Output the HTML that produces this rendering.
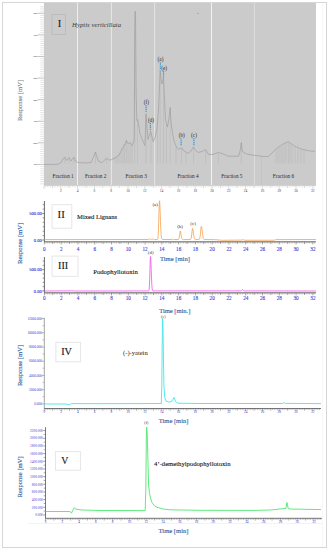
<!DOCTYPE html>
<html><head><meta charset="utf-8"><style>
html,body{margin:0;padding:0;background:#fff;width:329px;height:550px;overflow:hidden}
svg{display:block}
text{font-family:"Liberation Serif",serif}
</style></head><body>
<svg width="329" height="550" viewBox="0 0 329 550">
<rect x="2.5" y="2.5" width="324" height="545" fill="none" stroke="#d6d6d6" stroke-width="1"/>
<rect x="44" y="3" width="272" height="182" fill="#cbcbcb"/>
<line x1="37.8" y1="13.3" x2="44" y2="13.3" stroke="#a8a8a8" stroke-width="0.7"/>
<text x="37.4" y="14.3" font-size="2.8" fill="#3a3a3a" text-anchor="end" font-family="Liberation Sans" >800</text>
<line x1="37.8" y1="34.89" x2="44" y2="34.89" stroke="#a8a8a8" stroke-width="0.7"/>
<text x="37.4" y="35.89" font-size="2.8" fill="#3a3a3a" text-anchor="end" font-family="Liberation Sans" >700</text>
<line x1="37.8" y1="56.48" x2="44" y2="56.48" stroke="#a8a8a8" stroke-width="0.7"/>
<text x="37.4" y="57.48" font-size="2.8" fill="#3a3a3a" text-anchor="end" font-family="Liberation Sans" >600</text>
<line x1="37.8" y1="78.07" x2="44" y2="78.07" stroke="#a8a8a8" stroke-width="0.7"/>
<text x="37.4" y="79.07" font-size="2.8" fill="#3a3a3a" text-anchor="end" font-family="Liberation Sans" >500</text>
<line x1="37.8" y1="99.66" x2="44" y2="99.66" stroke="#a8a8a8" stroke-width="0.7"/>
<text x="37.4" y="100.66" font-size="2.8" fill="#3a3a3a" text-anchor="end" font-family="Liberation Sans" >400</text>
<line x1="37.8" y1="121.25" x2="44" y2="121.25" stroke="#a8a8a8" stroke-width="0.7"/>
<text x="37.4" y="122.25" font-size="2.8" fill="#3a3a3a" text-anchor="end" font-family="Liberation Sans" >300</text>
<line x1="37.8" y1="142.84" x2="44" y2="142.84" stroke="#a8a8a8" stroke-width="0.7"/>
<text x="37.4" y="143.84" font-size="2.8" fill="#3a3a3a" text-anchor="end" font-family="Liberation Sans" >200</text>
<line x1="37.8" y1="164.43" x2="44" y2="164.43" stroke="#a8a8a8" stroke-width="0.7"/>
<text x="37.4" y="165.43" font-size="2.8" fill="#3a3a3a" text-anchor="end" font-family="Liberation Sans" >100</text>
<line x1="40.3" y1="6.82" x2="44" y2="6.82" stroke="#c8c8c8" stroke-width="0.5"/>
<line x1="40.3" y1="8.98" x2="44" y2="8.98" stroke="#c8c8c8" stroke-width="0.5"/>
<line x1="40.3" y1="11.14" x2="44" y2="11.14" stroke="#c8c8c8" stroke-width="0.5"/>
<line x1="40.3" y1="15.46" x2="44" y2="15.46" stroke="#c8c8c8" stroke-width="0.5"/>
<line x1="40.3" y1="17.62" x2="44" y2="17.62" stroke="#c8c8c8" stroke-width="0.5"/>
<line x1="40.3" y1="19.78" x2="44" y2="19.78" stroke="#c8c8c8" stroke-width="0.5"/>
<line x1="40.3" y1="21.94" x2="44" y2="21.94" stroke="#c8c8c8" stroke-width="0.5"/>
<line x1="40.3" y1="24.09" x2="44" y2="24.09" stroke="#c8c8c8" stroke-width="0.5"/>
<line x1="40.3" y1="26.25" x2="44" y2="26.25" stroke="#c8c8c8" stroke-width="0.5"/>
<line x1="40.3" y1="28.41" x2="44" y2="28.41" stroke="#c8c8c8" stroke-width="0.5"/>
<line x1="40.3" y1="30.57" x2="44" y2="30.57" stroke="#c8c8c8" stroke-width="0.5"/>
<line x1="40.3" y1="32.73" x2="44" y2="32.73" stroke="#c8c8c8" stroke-width="0.5"/>
<line x1="40.3" y1="37.05" x2="44" y2="37.05" stroke="#c8c8c8" stroke-width="0.5"/>
<line x1="40.3" y1="39.21" x2="44" y2="39.21" stroke="#c8c8c8" stroke-width="0.5"/>
<line x1="40.3" y1="41.37" x2="44" y2="41.37" stroke="#c8c8c8" stroke-width="0.5"/>
<line x1="40.3" y1="43.53" x2="44" y2="43.53" stroke="#c8c8c8" stroke-width="0.5"/>
<line x1="40.3" y1="45.69" x2="44" y2="45.69" stroke="#c8c8c8" stroke-width="0.5"/>
<line x1="40.3" y1="47.84" x2="44" y2="47.84" stroke="#c8c8c8" stroke-width="0.5"/>
<line x1="40.3" y1="50" x2="44" y2="50" stroke="#c8c8c8" stroke-width="0.5"/>
<line x1="40.3" y1="52.16" x2="44" y2="52.16" stroke="#c8c8c8" stroke-width="0.5"/>
<line x1="40.3" y1="54.32" x2="44" y2="54.32" stroke="#c8c8c8" stroke-width="0.5"/>
<line x1="40.3" y1="58.64" x2="44" y2="58.64" stroke="#c8c8c8" stroke-width="0.5"/>
<line x1="40.3" y1="60.8" x2="44" y2="60.8" stroke="#c8c8c8" stroke-width="0.5"/>
<line x1="40.3" y1="62.96" x2="44" y2="62.96" stroke="#c8c8c8" stroke-width="0.5"/>
<line x1="40.3" y1="65.12" x2="44" y2="65.12" stroke="#c8c8c8" stroke-width="0.5"/>
<line x1="40.3" y1="67.28" x2="44" y2="67.28" stroke="#c8c8c8" stroke-width="0.5"/>
<line x1="40.3" y1="69.43" x2="44" y2="69.43" stroke="#c8c8c8" stroke-width="0.5"/>
<line x1="40.3" y1="71.59" x2="44" y2="71.59" stroke="#c8c8c8" stroke-width="0.5"/>
<line x1="40.3" y1="73.75" x2="44" y2="73.75" stroke="#c8c8c8" stroke-width="0.5"/>
<line x1="40.3" y1="75.91" x2="44" y2="75.91" stroke="#c8c8c8" stroke-width="0.5"/>
<line x1="40.3" y1="80.23" x2="44" y2="80.23" stroke="#c8c8c8" stroke-width="0.5"/>
<line x1="40.3" y1="82.39" x2="44" y2="82.39" stroke="#c8c8c8" stroke-width="0.5"/>
<line x1="40.3" y1="84.55" x2="44" y2="84.55" stroke="#c8c8c8" stroke-width="0.5"/>
<line x1="40.3" y1="86.71" x2="44" y2="86.71" stroke="#c8c8c8" stroke-width="0.5"/>
<line x1="40.3" y1="88.86" x2="44" y2="88.86" stroke="#c8c8c8" stroke-width="0.5"/>
<line x1="40.3" y1="91.02" x2="44" y2="91.02" stroke="#c8c8c8" stroke-width="0.5"/>
<line x1="40.3" y1="93.18" x2="44" y2="93.18" stroke="#c8c8c8" stroke-width="0.5"/>
<line x1="40.3" y1="95.34" x2="44" y2="95.34" stroke="#c8c8c8" stroke-width="0.5"/>
<line x1="40.3" y1="97.5" x2="44" y2="97.5" stroke="#c8c8c8" stroke-width="0.5"/>
<line x1="40.3" y1="101.82" x2="44" y2="101.82" stroke="#c8c8c8" stroke-width="0.5"/>
<line x1="40.3" y1="103.98" x2="44" y2="103.98" stroke="#c8c8c8" stroke-width="0.5"/>
<line x1="40.3" y1="106.14" x2="44" y2="106.14" stroke="#c8c8c8" stroke-width="0.5"/>
<line x1="40.3" y1="108.3" x2="44" y2="108.3" stroke="#c8c8c8" stroke-width="0.5"/>
<line x1="40.3" y1="110.45" x2="44" y2="110.45" stroke="#c8c8c8" stroke-width="0.5"/>
<line x1="40.3" y1="112.61" x2="44" y2="112.61" stroke="#c8c8c8" stroke-width="0.5"/>
<line x1="40.3" y1="114.77" x2="44" y2="114.77" stroke="#c8c8c8" stroke-width="0.5"/>
<line x1="40.3" y1="116.93" x2="44" y2="116.93" stroke="#c8c8c8" stroke-width="0.5"/>
<line x1="40.3" y1="119.09" x2="44" y2="119.09" stroke="#c8c8c8" stroke-width="0.5"/>
<line x1="40.3" y1="123.41" x2="44" y2="123.41" stroke="#c8c8c8" stroke-width="0.5"/>
<line x1="40.3" y1="125.57" x2="44" y2="125.57" stroke="#c8c8c8" stroke-width="0.5"/>
<line x1="40.3" y1="127.73" x2="44" y2="127.73" stroke="#c8c8c8" stroke-width="0.5"/>
<line x1="40.3" y1="129.89" x2="44" y2="129.89" stroke="#c8c8c8" stroke-width="0.5"/>
<line x1="40.3" y1="132.05" x2="44" y2="132.05" stroke="#c8c8c8" stroke-width="0.5"/>
<line x1="40.3" y1="134.2" x2="44" y2="134.2" stroke="#c8c8c8" stroke-width="0.5"/>
<line x1="40.3" y1="136.36" x2="44" y2="136.36" stroke="#c8c8c8" stroke-width="0.5"/>
<line x1="40.3" y1="138.52" x2="44" y2="138.52" stroke="#c8c8c8" stroke-width="0.5"/>
<line x1="40.3" y1="140.68" x2="44" y2="140.68" stroke="#c8c8c8" stroke-width="0.5"/>
<line x1="40.3" y1="145" x2="44" y2="145" stroke="#c8c8c8" stroke-width="0.5"/>
<line x1="40.3" y1="147.16" x2="44" y2="147.16" stroke="#c8c8c8" stroke-width="0.5"/>
<line x1="40.3" y1="149.32" x2="44" y2="149.32" stroke="#c8c8c8" stroke-width="0.5"/>
<line x1="40.3" y1="151.48" x2="44" y2="151.48" stroke="#c8c8c8" stroke-width="0.5"/>
<line x1="40.3" y1="153.63" x2="44" y2="153.63" stroke="#c8c8c8" stroke-width="0.5"/>
<line x1="40.3" y1="155.79" x2="44" y2="155.79" stroke="#c8c8c8" stroke-width="0.5"/>
<line x1="40.3" y1="157.95" x2="44" y2="157.95" stroke="#c8c8c8" stroke-width="0.5"/>
<line x1="40.3" y1="160.11" x2="44" y2="160.11" stroke="#c8c8c8" stroke-width="0.5"/>
<line x1="40.3" y1="162.27" x2="44" y2="162.27" stroke="#c8c8c8" stroke-width="0.5"/>
<line x1="40.3" y1="166.59" x2="44" y2="166.59" stroke="#c8c8c8" stroke-width="0.5"/>
<line x1="40.3" y1="168.75" x2="44" y2="168.75" stroke="#c8c8c8" stroke-width="0.5"/>
<line x1="40.3" y1="170.91" x2="44" y2="170.91" stroke="#c8c8c8" stroke-width="0.5"/>
<line x1="40.3" y1="173.07" x2="44" y2="173.07" stroke="#c8c8c8" stroke-width="0.5"/>
<line x1="40.3" y1="175.23" x2="44" y2="175.23" stroke="#c8c8c8" stroke-width="0.5"/>
<line x1="40.3" y1="177.38" x2="44" y2="177.38" stroke="#c8c8c8" stroke-width="0.5"/>
<line x1="40.3" y1="179.54" x2="44" y2="179.54" stroke="#c8c8c8" stroke-width="0.5"/>
<line x1="40.3" y1="181.7" x2="44" y2="181.7" stroke="#c8c8c8" stroke-width="0.5"/>
<line x1="40.3" y1="183.86" x2="44" y2="183.86" stroke="#c8c8c8" stroke-width="0.5"/>
<text x="0" y="0" font-size="6.6" fill="#808080" text-anchor="middle" stroke="#808080" stroke-width="0.12" transform="translate(21.7,100.5) rotate(-90)">Response [mV]</text>
<line x1="44" y1="185.5" x2="316" y2="185.5" stroke="#d4d4d4" stroke-width="1"/>
<line x1="44" y1="185.5" x2="44" y2="189" stroke="#bdbdbd" stroke-width="0.6"/>
<line x1="45.68" y1="185.5" x2="45.68" y2="187.3" stroke="#d0d0d0" stroke-width="0.5"/>
<line x1="47.36" y1="185.5" x2="47.36" y2="187.3" stroke="#d0d0d0" stroke-width="0.5"/>
<line x1="49.04" y1="185.5" x2="49.04" y2="187.3" stroke="#d0d0d0" stroke-width="0.5"/>
<line x1="50.72" y1="185.5" x2="50.72" y2="187.3" stroke="#d0d0d0" stroke-width="0.5"/>
<line x1="52.4" y1="185.5" x2="52.4" y2="188" stroke="#bdbdbd" stroke-width="0.6"/>
<line x1="54.08" y1="185.5" x2="54.08" y2="187.3" stroke="#d0d0d0" stroke-width="0.5"/>
<line x1="55.76" y1="185.5" x2="55.76" y2="187.3" stroke="#d0d0d0" stroke-width="0.5"/>
<line x1="57.44" y1="185.5" x2="57.44" y2="187.3" stroke="#d0d0d0" stroke-width="0.5"/>
<line x1="59.12" y1="185.5" x2="59.12" y2="187.3" stroke="#d0d0d0" stroke-width="0.5"/>
<line x1="60.8" y1="185.5" x2="60.8" y2="189" stroke="#bdbdbd" stroke-width="0.6"/>
<text x="60.8" y="192.4" font-size="3.5" fill="#444" text-anchor="middle" font-family="Liberation Sans" >2</text>
<line x1="62.48" y1="185.5" x2="62.48" y2="187.3" stroke="#d0d0d0" stroke-width="0.5"/>
<line x1="64.16" y1="185.5" x2="64.16" y2="187.3" stroke="#d0d0d0" stroke-width="0.5"/>
<line x1="65.84" y1="185.5" x2="65.84" y2="187.3" stroke="#d0d0d0" stroke-width="0.5"/>
<line x1="67.52" y1="185.5" x2="67.52" y2="187.3" stroke="#d0d0d0" stroke-width="0.5"/>
<line x1="69.2" y1="185.5" x2="69.2" y2="188" stroke="#bdbdbd" stroke-width="0.6"/>
<line x1="70.88" y1="185.5" x2="70.88" y2="187.3" stroke="#d0d0d0" stroke-width="0.5"/>
<line x1="72.56" y1="185.5" x2="72.56" y2="187.3" stroke="#d0d0d0" stroke-width="0.5"/>
<line x1="74.24" y1="185.5" x2="74.24" y2="187.3" stroke="#d0d0d0" stroke-width="0.5"/>
<line x1="75.92" y1="185.5" x2="75.92" y2="187.3" stroke="#d0d0d0" stroke-width="0.5"/>
<line x1="77.6" y1="185.5" x2="77.6" y2="189" stroke="#bdbdbd" stroke-width="0.6"/>
<text x="77.6" y="192.4" font-size="3.5" fill="#444" text-anchor="middle" font-family="Liberation Sans" >4</text>
<line x1="79.28" y1="185.5" x2="79.28" y2="187.3" stroke="#d0d0d0" stroke-width="0.5"/>
<line x1="80.96" y1="185.5" x2="80.96" y2="187.3" stroke="#d0d0d0" stroke-width="0.5"/>
<line x1="82.64" y1="185.5" x2="82.64" y2="187.3" stroke="#d0d0d0" stroke-width="0.5"/>
<line x1="84.32" y1="185.5" x2="84.32" y2="187.3" stroke="#d0d0d0" stroke-width="0.5"/>
<line x1="86" y1="185.5" x2="86" y2="188" stroke="#bdbdbd" stroke-width="0.6"/>
<line x1="87.68" y1="185.5" x2="87.68" y2="187.3" stroke="#d0d0d0" stroke-width="0.5"/>
<line x1="89.36" y1="185.5" x2="89.36" y2="187.3" stroke="#d0d0d0" stroke-width="0.5"/>
<line x1="91.04" y1="185.5" x2="91.04" y2="187.3" stroke="#d0d0d0" stroke-width="0.5"/>
<line x1="92.72" y1="185.5" x2="92.72" y2="187.3" stroke="#d0d0d0" stroke-width="0.5"/>
<line x1="94.4" y1="185.5" x2="94.4" y2="189" stroke="#bdbdbd" stroke-width="0.6"/>
<text x="94.4" y="192.4" font-size="3.5" fill="#444" text-anchor="middle" font-family="Liberation Sans" >6</text>
<line x1="96.08" y1="185.5" x2="96.08" y2="187.3" stroke="#d0d0d0" stroke-width="0.5"/>
<line x1="97.76" y1="185.5" x2="97.76" y2="187.3" stroke="#d0d0d0" stroke-width="0.5"/>
<line x1="99.44" y1="185.5" x2="99.44" y2="187.3" stroke="#d0d0d0" stroke-width="0.5"/>
<line x1="101.12" y1="185.5" x2="101.12" y2="187.3" stroke="#d0d0d0" stroke-width="0.5"/>
<line x1="102.8" y1="185.5" x2="102.8" y2="188" stroke="#bdbdbd" stroke-width="0.6"/>
<line x1="104.48" y1="185.5" x2="104.48" y2="187.3" stroke="#d0d0d0" stroke-width="0.5"/>
<line x1="106.16" y1="185.5" x2="106.16" y2="187.3" stroke="#d0d0d0" stroke-width="0.5"/>
<line x1="107.84" y1="185.5" x2="107.84" y2="187.3" stroke="#d0d0d0" stroke-width="0.5"/>
<line x1="109.52" y1="185.5" x2="109.52" y2="187.3" stroke="#d0d0d0" stroke-width="0.5"/>
<line x1="111.2" y1="185.5" x2="111.2" y2="189" stroke="#bdbdbd" stroke-width="0.6"/>
<text x="111.2" y="192.4" font-size="3.5" fill="#444" text-anchor="middle" font-family="Liberation Sans" >8</text>
<line x1="112.88" y1="185.5" x2="112.88" y2="187.3" stroke="#d0d0d0" stroke-width="0.5"/>
<line x1="114.56" y1="185.5" x2="114.56" y2="187.3" stroke="#d0d0d0" stroke-width="0.5"/>
<line x1="116.24" y1="185.5" x2="116.24" y2="187.3" stroke="#d0d0d0" stroke-width="0.5"/>
<line x1="117.92" y1="185.5" x2="117.92" y2="187.3" stroke="#d0d0d0" stroke-width="0.5"/>
<line x1="119.6" y1="185.5" x2="119.6" y2="188" stroke="#bdbdbd" stroke-width="0.6"/>
<line x1="121.28" y1="185.5" x2="121.28" y2="187.3" stroke="#d0d0d0" stroke-width="0.5"/>
<line x1="122.96" y1="185.5" x2="122.96" y2="187.3" stroke="#d0d0d0" stroke-width="0.5"/>
<line x1="124.64" y1="185.5" x2="124.64" y2="187.3" stroke="#d0d0d0" stroke-width="0.5"/>
<line x1="126.32" y1="185.5" x2="126.32" y2="187.3" stroke="#d0d0d0" stroke-width="0.5"/>
<line x1="128" y1="185.5" x2="128" y2="189" stroke="#bdbdbd" stroke-width="0.6"/>
<text x="128" y="192.4" font-size="3.5" fill="#444" text-anchor="middle" font-family="Liberation Sans" >10</text>
<line x1="129.68" y1="185.5" x2="129.68" y2="187.3" stroke="#d0d0d0" stroke-width="0.5"/>
<line x1="131.36" y1="185.5" x2="131.36" y2="187.3" stroke="#d0d0d0" stroke-width="0.5"/>
<line x1="133.04" y1="185.5" x2="133.04" y2="187.3" stroke="#d0d0d0" stroke-width="0.5"/>
<line x1="134.72" y1="185.5" x2="134.72" y2="187.3" stroke="#d0d0d0" stroke-width="0.5"/>
<line x1="136.4" y1="185.5" x2="136.4" y2="188" stroke="#bdbdbd" stroke-width="0.6"/>
<line x1="138.08" y1="185.5" x2="138.08" y2="187.3" stroke="#d0d0d0" stroke-width="0.5"/>
<line x1="139.76" y1="185.5" x2="139.76" y2="187.3" stroke="#d0d0d0" stroke-width="0.5"/>
<line x1="141.44" y1="185.5" x2="141.44" y2="187.3" stroke="#d0d0d0" stroke-width="0.5"/>
<line x1="143.12" y1="185.5" x2="143.12" y2="187.3" stroke="#d0d0d0" stroke-width="0.5"/>
<line x1="144.8" y1="185.5" x2="144.8" y2="189" stroke="#bdbdbd" stroke-width="0.6"/>
<text x="144.8" y="192.4" font-size="3.5" fill="#444" text-anchor="middle" font-family="Liberation Sans" >12</text>
<line x1="146.48" y1="185.5" x2="146.48" y2="187.3" stroke="#d0d0d0" stroke-width="0.5"/>
<line x1="148.16" y1="185.5" x2="148.16" y2="187.3" stroke="#d0d0d0" stroke-width="0.5"/>
<line x1="149.84" y1="185.5" x2="149.84" y2="187.3" stroke="#d0d0d0" stroke-width="0.5"/>
<line x1="151.52" y1="185.5" x2="151.52" y2="187.3" stroke="#d0d0d0" stroke-width="0.5"/>
<line x1="153.2" y1="185.5" x2="153.2" y2="188" stroke="#bdbdbd" stroke-width="0.6"/>
<line x1="154.88" y1="185.5" x2="154.88" y2="187.3" stroke="#d0d0d0" stroke-width="0.5"/>
<line x1="156.56" y1="185.5" x2="156.56" y2="187.3" stroke="#d0d0d0" stroke-width="0.5"/>
<line x1="158.24" y1="185.5" x2="158.24" y2="187.3" stroke="#d0d0d0" stroke-width="0.5"/>
<line x1="159.92" y1="185.5" x2="159.92" y2="187.3" stroke="#d0d0d0" stroke-width="0.5"/>
<line x1="161.6" y1="185.5" x2="161.6" y2="189" stroke="#bdbdbd" stroke-width="0.6"/>
<text x="161.6" y="192.4" font-size="3.5" fill="#444" text-anchor="middle" font-family="Liberation Sans" >14</text>
<line x1="163.28" y1="185.5" x2="163.28" y2="187.3" stroke="#d0d0d0" stroke-width="0.5"/>
<line x1="164.96" y1="185.5" x2="164.96" y2="187.3" stroke="#d0d0d0" stroke-width="0.5"/>
<line x1="166.64" y1="185.5" x2="166.64" y2="187.3" stroke="#d0d0d0" stroke-width="0.5"/>
<line x1="168.32" y1="185.5" x2="168.32" y2="187.3" stroke="#d0d0d0" stroke-width="0.5"/>
<line x1="170" y1="185.5" x2="170" y2="188" stroke="#bdbdbd" stroke-width="0.6"/>
<line x1="171.68" y1="185.5" x2="171.68" y2="187.3" stroke="#d0d0d0" stroke-width="0.5"/>
<line x1="173.36" y1="185.5" x2="173.36" y2="187.3" stroke="#d0d0d0" stroke-width="0.5"/>
<line x1="175.04" y1="185.5" x2="175.04" y2="187.3" stroke="#d0d0d0" stroke-width="0.5"/>
<line x1="176.72" y1="185.5" x2="176.72" y2="187.3" stroke="#d0d0d0" stroke-width="0.5"/>
<line x1="178.4" y1="185.5" x2="178.4" y2="189" stroke="#bdbdbd" stroke-width="0.6"/>
<text x="178.4" y="192.4" font-size="3.5" fill="#444" text-anchor="middle" font-family="Liberation Sans" >16</text>
<line x1="180.08" y1="185.5" x2="180.08" y2="187.3" stroke="#d0d0d0" stroke-width="0.5"/>
<line x1="181.76" y1="185.5" x2="181.76" y2="187.3" stroke="#d0d0d0" stroke-width="0.5"/>
<line x1="183.44" y1="185.5" x2="183.44" y2="187.3" stroke="#d0d0d0" stroke-width="0.5"/>
<line x1="185.12" y1="185.5" x2="185.12" y2="187.3" stroke="#d0d0d0" stroke-width="0.5"/>
<line x1="186.8" y1="185.5" x2="186.8" y2="188" stroke="#bdbdbd" stroke-width="0.6"/>
<line x1="188.48" y1="185.5" x2="188.48" y2="187.3" stroke="#d0d0d0" stroke-width="0.5"/>
<line x1="190.16" y1="185.5" x2="190.16" y2="187.3" stroke="#d0d0d0" stroke-width="0.5"/>
<line x1="191.84" y1="185.5" x2="191.84" y2="187.3" stroke="#d0d0d0" stroke-width="0.5"/>
<line x1="193.52" y1="185.5" x2="193.52" y2="187.3" stroke="#d0d0d0" stroke-width="0.5"/>
<line x1="195.2" y1="185.5" x2="195.2" y2="189" stroke="#bdbdbd" stroke-width="0.6"/>
<text x="195.2" y="192.4" font-size="3.5" fill="#444" text-anchor="middle" font-family="Liberation Sans" >18</text>
<line x1="196.88" y1="185.5" x2="196.88" y2="187.3" stroke="#d0d0d0" stroke-width="0.5"/>
<line x1="198.56" y1="185.5" x2="198.56" y2="187.3" stroke="#d0d0d0" stroke-width="0.5"/>
<line x1="200.24" y1="185.5" x2="200.24" y2="187.3" stroke="#d0d0d0" stroke-width="0.5"/>
<line x1="201.92" y1="185.5" x2="201.92" y2="187.3" stroke="#d0d0d0" stroke-width="0.5"/>
<line x1="203.6" y1="185.5" x2="203.6" y2="188" stroke="#bdbdbd" stroke-width="0.6"/>
<line x1="205.28" y1="185.5" x2="205.28" y2="187.3" stroke="#d0d0d0" stroke-width="0.5"/>
<line x1="206.96" y1="185.5" x2="206.96" y2="187.3" stroke="#d0d0d0" stroke-width="0.5"/>
<line x1="208.64" y1="185.5" x2="208.64" y2="187.3" stroke="#d0d0d0" stroke-width="0.5"/>
<line x1="210.32" y1="185.5" x2="210.32" y2="187.3" stroke="#d0d0d0" stroke-width="0.5"/>
<line x1="212" y1="185.5" x2="212" y2="189" stroke="#bdbdbd" stroke-width="0.6"/>
<text x="212" y="192.4" font-size="3.5" fill="#444" text-anchor="middle" font-family="Liberation Sans" >20</text>
<line x1="213.68" y1="185.5" x2="213.68" y2="187.3" stroke="#d0d0d0" stroke-width="0.5"/>
<line x1="215.36" y1="185.5" x2="215.36" y2="187.3" stroke="#d0d0d0" stroke-width="0.5"/>
<line x1="217.04" y1="185.5" x2="217.04" y2="187.3" stroke="#d0d0d0" stroke-width="0.5"/>
<line x1="218.72" y1="185.5" x2="218.72" y2="187.3" stroke="#d0d0d0" stroke-width="0.5"/>
<line x1="220.4" y1="185.5" x2="220.4" y2="188" stroke="#bdbdbd" stroke-width="0.6"/>
<line x1="222.08" y1="185.5" x2="222.08" y2="187.3" stroke="#d0d0d0" stroke-width="0.5"/>
<line x1="223.76" y1="185.5" x2="223.76" y2="187.3" stroke="#d0d0d0" stroke-width="0.5"/>
<line x1="225.44" y1="185.5" x2="225.44" y2="187.3" stroke="#d0d0d0" stroke-width="0.5"/>
<line x1="227.12" y1="185.5" x2="227.12" y2="187.3" stroke="#d0d0d0" stroke-width="0.5"/>
<line x1="228.8" y1="185.5" x2="228.8" y2="189" stroke="#bdbdbd" stroke-width="0.6"/>
<text x="228.8" y="192.4" font-size="3.5" fill="#444" text-anchor="middle" font-family="Liberation Sans" >22</text>
<line x1="230.48" y1="185.5" x2="230.48" y2="187.3" stroke="#d0d0d0" stroke-width="0.5"/>
<line x1="232.16" y1="185.5" x2="232.16" y2="187.3" stroke="#d0d0d0" stroke-width="0.5"/>
<line x1="233.84" y1="185.5" x2="233.84" y2="187.3" stroke="#d0d0d0" stroke-width="0.5"/>
<line x1="235.52" y1="185.5" x2="235.52" y2="187.3" stroke="#d0d0d0" stroke-width="0.5"/>
<line x1="237.2" y1="185.5" x2="237.2" y2="188" stroke="#bdbdbd" stroke-width="0.6"/>
<line x1="238.88" y1="185.5" x2="238.88" y2="187.3" stroke="#d0d0d0" stroke-width="0.5"/>
<line x1="240.56" y1="185.5" x2="240.56" y2="187.3" stroke="#d0d0d0" stroke-width="0.5"/>
<line x1="242.24" y1="185.5" x2="242.24" y2="187.3" stroke="#d0d0d0" stroke-width="0.5"/>
<line x1="243.92" y1="185.5" x2="243.92" y2="187.3" stroke="#d0d0d0" stroke-width="0.5"/>
<line x1="245.6" y1="185.5" x2="245.6" y2="189" stroke="#bdbdbd" stroke-width="0.6"/>
<text x="245.6" y="192.4" font-size="3.5" fill="#444" text-anchor="middle" font-family="Liberation Sans" >24</text>
<line x1="247.28" y1="185.5" x2="247.28" y2="187.3" stroke="#d0d0d0" stroke-width="0.5"/>
<line x1="248.96" y1="185.5" x2="248.96" y2="187.3" stroke="#d0d0d0" stroke-width="0.5"/>
<line x1="250.64" y1="185.5" x2="250.64" y2="187.3" stroke="#d0d0d0" stroke-width="0.5"/>
<line x1="252.32" y1="185.5" x2="252.32" y2="187.3" stroke="#d0d0d0" stroke-width="0.5"/>
<line x1="254" y1="185.5" x2="254" y2="188" stroke="#bdbdbd" stroke-width="0.6"/>
<line x1="255.68" y1="185.5" x2="255.68" y2="187.3" stroke="#d0d0d0" stroke-width="0.5"/>
<line x1="257.36" y1="185.5" x2="257.36" y2="187.3" stroke="#d0d0d0" stroke-width="0.5"/>
<line x1="259.04" y1="185.5" x2="259.04" y2="187.3" stroke="#d0d0d0" stroke-width="0.5"/>
<line x1="260.72" y1="185.5" x2="260.72" y2="187.3" stroke="#d0d0d0" stroke-width="0.5"/>
<line x1="262.4" y1="185.5" x2="262.4" y2="189" stroke="#bdbdbd" stroke-width="0.6"/>
<text x="262.4" y="192.4" font-size="3.5" fill="#444" text-anchor="middle" font-family="Liberation Sans" >26</text>
<line x1="264.08" y1="185.5" x2="264.08" y2="187.3" stroke="#d0d0d0" stroke-width="0.5"/>
<line x1="265.76" y1="185.5" x2="265.76" y2="187.3" stroke="#d0d0d0" stroke-width="0.5"/>
<line x1="267.44" y1="185.5" x2="267.44" y2="187.3" stroke="#d0d0d0" stroke-width="0.5"/>
<line x1="269.12" y1="185.5" x2="269.12" y2="187.3" stroke="#d0d0d0" stroke-width="0.5"/>
<line x1="270.8" y1="185.5" x2="270.8" y2="188" stroke="#bdbdbd" stroke-width="0.6"/>
<line x1="272.48" y1="185.5" x2="272.48" y2="187.3" stroke="#d0d0d0" stroke-width="0.5"/>
<line x1="274.16" y1="185.5" x2="274.16" y2="187.3" stroke="#d0d0d0" stroke-width="0.5"/>
<line x1="275.84" y1="185.5" x2="275.84" y2="187.3" stroke="#d0d0d0" stroke-width="0.5"/>
<line x1="277.52" y1="185.5" x2="277.52" y2="187.3" stroke="#d0d0d0" stroke-width="0.5"/>
<line x1="279.2" y1="185.5" x2="279.2" y2="189" stroke="#bdbdbd" stroke-width="0.6"/>
<text x="279.2" y="192.4" font-size="3.5" fill="#444" text-anchor="middle" font-family="Liberation Sans" >28</text>
<line x1="280.88" y1="185.5" x2="280.88" y2="187.3" stroke="#d0d0d0" stroke-width="0.5"/>
<line x1="282.56" y1="185.5" x2="282.56" y2="187.3" stroke="#d0d0d0" stroke-width="0.5"/>
<line x1="284.24" y1="185.5" x2="284.24" y2="187.3" stroke="#d0d0d0" stroke-width="0.5"/>
<line x1="285.92" y1="185.5" x2="285.92" y2="187.3" stroke="#d0d0d0" stroke-width="0.5"/>
<line x1="287.6" y1="185.5" x2="287.6" y2="188" stroke="#bdbdbd" stroke-width="0.6"/>
<line x1="289.28" y1="185.5" x2="289.28" y2="187.3" stroke="#d0d0d0" stroke-width="0.5"/>
<line x1="290.96" y1="185.5" x2="290.96" y2="187.3" stroke="#d0d0d0" stroke-width="0.5"/>
<line x1="292.64" y1="185.5" x2="292.64" y2="187.3" stroke="#d0d0d0" stroke-width="0.5"/>
<line x1="294.32" y1="185.5" x2="294.32" y2="187.3" stroke="#d0d0d0" stroke-width="0.5"/>
<line x1="296" y1="185.5" x2="296" y2="189" stroke="#bdbdbd" stroke-width="0.6"/>
<text x="296" y="192.4" font-size="3.5" fill="#444" text-anchor="middle" font-family="Liberation Sans" >30</text>
<line x1="297.68" y1="185.5" x2="297.68" y2="187.3" stroke="#d0d0d0" stroke-width="0.5"/>
<line x1="299.36" y1="185.5" x2="299.36" y2="187.3" stroke="#d0d0d0" stroke-width="0.5"/>
<line x1="301.04" y1="185.5" x2="301.04" y2="187.3" stroke="#d0d0d0" stroke-width="0.5"/>
<line x1="302.72" y1="185.5" x2="302.72" y2="187.3" stroke="#d0d0d0" stroke-width="0.5"/>
<line x1="304.4" y1="185.5" x2="304.4" y2="188" stroke="#bdbdbd" stroke-width="0.6"/>
<line x1="306.08" y1="185.5" x2="306.08" y2="187.3" stroke="#d0d0d0" stroke-width="0.5"/>
<line x1="307.76" y1="185.5" x2="307.76" y2="187.3" stroke="#d0d0d0" stroke-width="0.5"/>
<line x1="309.44" y1="185.5" x2="309.44" y2="187.3" stroke="#d0d0d0" stroke-width="0.5"/>
<line x1="311.12" y1="185.5" x2="311.12" y2="187.3" stroke="#d0d0d0" stroke-width="0.5"/>
<line x1="312.8" y1="185.5" x2="312.8" y2="189" stroke="#bdbdbd" stroke-width="0.6"/>
<text x="312.8" y="192.4" font-size="3.5" fill="#444" text-anchor="middle" font-family="Liberation Sans" >32</text>
<line x1="314.48" y1="185.5" x2="314.48" y2="187.3" stroke="#d0d0d0" stroke-width="0.5"/>
<line x1="77.5" y1="3" x2="77.5" y2="185" stroke="#efefef" stroke-width="1.05"/>
<line x1="111.4" y1="3" x2="111.4" y2="185" stroke="#e6e6e6" stroke-width="1.05"/>
<line x1="154.6" y1="3" x2="154.6" y2="185" stroke="#e3e3e3" stroke-width="1.05"/>
<line x1="211.5" y1="3" x2="211.5" y2="185" stroke="#f1f1f1" stroke-width="1.05"/>
<line x1="254.4" y1="3" x2="254.4" y2="185" stroke="#dedede" stroke-width="1.05"/>
<line x1="261.5" y1="157" x2="261.5" y2="185" stroke="#bcbcbc" stroke-width="0.5"/>
<circle cx="198" cy="13.4" r="0.6" fill="#999"/>
<line x1="322.5" y1="3" x2="322.5" y2="547" stroke="#f5f5f5" stroke-width="0.8"/>
<text x="63.1" y="177.7" font-size="5.2" fill="#2a2a2a" text-anchor="middle" >Fraction 1</text>
<text x="95.7" y="177.7" font-size="5.2" fill="#2a2a2a" text-anchor="middle" >Fraction 2</text>
<text x="136.2" y="177.7" font-size="5.2" fill="#2a2a2a" text-anchor="middle" >Fraction 3</text>
<text x="188" y="177.7" font-size="5.2" fill="#2a2a2a" text-anchor="middle" >Fraction 4</text>
<text x="231.8" y="177.7" font-size="5.2" fill="#2a2a2a" text-anchor="middle" >Fraction 5</text>
<text x="283.4" y="177.7" font-size="5.2" fill="#2a2a2a" text-anchor="middle" >Fraction 6</text>
<rect x="52" y="14.4" width="13.5" height="20.1" fill="none" stroke="#b8b8b8" stroke-width="0.8"/>
<text x="59.4" y="26.8" font-size="10.5" fill="#222" text-anchor="middle" stroke="#222" stroke-width="0.15" >I</text>
<text x="72.1" y="27.4" font-size="6.75" fill="#3c3c3c" text-anchor="start" font-style="italic">Hyptis verticillata</text>
<line x1="64.7" y1="157.5" x2="64.7" y2="163.5" stroke="#b3b3b3" stroke-width="0.45"/>
<line x1="69" y1="158" x2="69" y2="163.5" stroke="#b3b3b3" stroke-width="0.45"/>
<line x1="73.8" y1="157.5" x2="73.8" y2="163.5" stroke="#b3b3b3" stroke-width="0.45"/>
<line x1="95.5" y1="152.4" x2="95.5" y2="163.5" stroke="#b3b3b3" stroke-width="0.45"/>
<line x1="106.5" y1="158.8" x2="106.5" y2="163.5" stroke="#b3b3b3" stroke-width="0.45"/>
<line x1="115" y1="157.8" x2="115" y2="163.5" stroke="#b3b3b3" stroke-width="0.45"/>
<line x1="117" y1="157.3" x2="117" y2="163.5" stroke="#b3b3b3" stroke-width="0.45"/>
<line x1="119" y1="155.82" x2="119" y2="163.5" stroke="#b3b3b3" stroke-width="0.45"/>
<line x1="121" y1="151.98" x2="121" y2="163.5" stroke="#b3b3b3" stroke-width="0.45"/>
<line x1="123" y1="148.46" x2="123" y2="163.5" stroke="#b3b3b3" stroke-width="0.45"/>
<line x1="124.5" y1="145.25" x2="124.5" y2="163.5" stroke="#b3b3b3" stroke-width="0.45"/>
<line x1="126.3" y1="140.7" x2="126.3" y2="163.5" stroke="#b3b3b3" stroke-width="0.45"/>
<line x1="128" y1="144.5" x2="128" y2="163.5" stroke="#b3b3b3" stroke-width="0.45"/>
<line x1="130.1" y1="142.8" x2="130.1" y2="163.5" stroke="#b3b3b3" stroke-width="0.45"/>
<line x1="132" y1="145.91" x2="132" y2="163.5" stroke="#b3b3b3" stroke-width="0.45"/>
<line x1="134.8" y1="30.36" x2="134.8" y2="163.5" stroke="#b3b3b3" stroke-width="0.45"/>
<line x1="137.5" y1="120.2" x2="137.5" y2="163.5" stroke="#b3b3b3" stroke-width="0.45"/>
<line x1="146" y1="114.2" x2="146" y2="163.5" stroke="#b3b3b3" stroke-width="0.45"/>
<line x1="151" y1="133.17" x2="151" y2="163.5" stroke="#b3b3b3" stroke-width="0.45"/>
<line x1="157.5" y1="122.5" x2="157.5" y2="163.5" stroke="#b3b3b3" stroke-width="0.45"/>
<line x1="160.2" y1="70.7" x2="160.2" y2="163.5" stroke="#b3b3b3" stroke-width="0.45"/>
<line x1="163.5" y1="78" x2="163.5" y2="163.5" stroke="#b3b3b3" stroke-width="0.45"/>
<line x1="166.5" y1="124" x2="166.5" y2="163.5" stroke="#b3b3b3" stroke-width="0.45"/>
<line x1="170.2" y1="108" x2="170.2" y2="163.5" stroke="#b3b3b3" stroke-width="0.45"/>
<line x1="176" y1="146.42" x2="176" y2="163.5" stroke="#b3b3b3" stroke-width="0.45"/>
<line x1="181.5" y1="148.3" x2="181.5" y2="163.5" stroke="#b3b3b3" stroke-width="0.45"/>
<line x1="186" y1="152.6" x2="186" y2="163.5" stroke="#b3b3b3" stroke-width="0.45"/>
<line x1="193.5" y1="147.4" x2="193.5" y2="163.5" stroke="#b3b3b3" stroke-width="0.45"/>
<line x1="205.6" y1="150.1" x2="205.6" y2="163.5" stroke="#b3b3b3" stroke-width="0.45"/>
<line x1="218.4" y1="152.9" x2="218.4" y2="163.5" stroke="#b3b3b3" stroke-width="0.45"/>
<line x1="241.3" y1="143" x2="241.3" y2="163.5" stroke="#b3b3b3" stroke-width="0.45"/>
<line x1="276" y1="149.59" x2="276" y2="163.5" stroke="#b3b3b3" stroke-width="0.45"/>
<line x1="278" y1="147.99" x2="278" y2="163.5" stroke="#b3b3b3" stroke-width="0.45"/>
<line x1="280" y1="146.59" x2="280" y2="163.5" stroke="#b3b3b3" stroke-width="0.45"/>
<line x1="282" y1="145.18" x2="282" y2="163.5" stroke="#b3b3b3" stroke-width="0.45"/>
<line x1="284" y1="143.96" x2="284" y2="163.5" stroke="#b3b3b3" stroke-width="0.45"/>
<line x1="286" y1="143.16" x2="286" y2="163.5" stroke="#b3b3b3" stroke-width="0.45"/>
<line x1="288.4" y1="142.2" x2="288.4" y2="163.5" stroke="#b3b3b3" stroke-width="0.45"/>
<line x1="290" y1="143.34" x2="290" y2="163.5" stroke="#b3b3b3" stroke-width="0.45"/>
<line x1="292" y1="144.76" x2="292" y2="163.5" stroke="#b3b3b3" stroke-width="0.45"/>
<line x1="295" y1="146.71" x2="295" y2="163.5" stroke="#b3b3b3" stroke-width="0.45"/>
<line x1="298" y1="148.03" x2="298" y2="163.5" stroke="#b3b3b3" stroke-width="0.45"/>
<line x1="301" y1="149.35" x2="301" y2="163.5" stroke="#b3b3b3" stroke-width="0.45"/>
<line x1="304" y1="150.18" x2="304" y2="163.5" stroke="#b3b3b3" stroke-width="0.45"/>
<polyline points="44,164.5 58,164.3 61,162.5 63,159 64.7,157 66.5,160.5 69,157.5 71,161 73.8,157 75.5,161 78,162.5 85,163 91,162.5 93.5,157 95.5,151.9 97,157 98.2,161 101.9,162.8 104,160.5 106.5,158.3 109,160 111,160 113,158.6 114,159.2 115,157.3 116.5,157.6 118,155.2 118.9,155.6 120,152.5 120.8,152.2 121.8,148.6 122.7,148.8 124.2,144.6 125,145 126.3,140.2 128,144 130.1,142.3 132.3,145.9 134.2,140 134.9,11.5 135.5,11.5 136.1,90 136.8,120.4 137.7,119.5 139.9,133.2 142,139 144.9,145.6 145.5,130 146,113.7 147,127 148,139.5 149.5,135 150.6,131 151.8,136 153.2,141.8 155,138 157,128 158.5,110 160.2,70.2 161,78 161.8,84 163.5,77.5 164.5,98 165.5,120 167.5,127 169,118 170.2,107.5 171,122 172.5,133 174,141 176.4,146.9 178.5,149.5 181.5,147.8 184,151 188.2,153.3 191,151 193.5,146.9 195.5,150.5 198.3,152.4 202,151.5 205.6,149.6 208.3,154.2 211,154.5 213.8,154.2 218.4,152.4 224.7,154.6 228,156.2 238.7,156.2 240.3,150 241.3,142.5 242.5,151.6 246.3,153.9 254.6,155.4 264.5,156.6 269,156.2 270,155 276.7,148.4 283.4,143.7 288.4,141.7 294.3,145.9 301.8,149.2 310,151 315,151.4" fill="none" stroke="#9c9c9c" stroke-width="0.65" stroke-linejoin="round" />
<text x="146.4" y="103.9" font-size="5.2" fill="#2a2a2a" text-anchor="middle" >(f)</text>
<line x1="146.1" y1="105.2" x2="146.1" y2="112" stroke="#3c9ad6" stroke-width="1.2" stroke-dasharray="1.3,0.6"/>
<text x="151" y="122.3" font-size="5.2" fill="#2a2a2a" text-anchor="middle" >(d)</text>
<line x1="150.4" y1="123" x2="150.4" y2="130.5" stroke="#3c9ad6" stroke-width="1.2" stroke-dasharray="1.3,0.6"/>
<text x="160.5" y="61.3" font-size="5.2" fill="#2a2a2a" text-anchor="middle" >(a)</text>
<line x1="160.4" y1="62.4" x2="160.4" y2="68.9" stroke="#3c9ad6" stroke-width="1.2" stroke-dasharray="1.3,0.6"/>
<text x="164.2" y="69.5" font-size="5.2" fill="#2a2a2a" text-anchor="middle" >(e)</text>
<line x1="163.5" y1="70.7" x2="163.5" y2="77.6" stroke="#3c9ad6" stroke-width="1.2" stroke-dasharray="1.3,0.6"/>
<text x="181.7" y="137.3" font-size="5.2" fill="#2a2a2a" text-anchor="middle" >(b)</text>
<line x1="181.1" y1="138.3" x2="181.1" y2="145.8" stroke="#3c9ad6" stroke-width="1.2" stroke-dasharray="1.3,0.6"/>
<text x="194" y="137.1" font-size="5.2" fill="#2a2a2a" text-anchor="middle" >(c)</text>
<line x1="193.9" y1="137.9" x2="193.9" y2="145.8" stroke="#3c9ad6" stroke-width="1.2" stroke-dasharray="1.3,0.6"/>
<line x1="44.4" y1="201" x2="44.4" y2="241.8" stroke="#444" stroke-width="0.8"/>
<line x1="42.1" y1="213.5" x2="44.4" y2="213.5" stroke="#444" stroke-width="0.6"/>
<text x="41.9" y="215.16" font-size="4.6" fill="#3a3ad2" text-anchor="end" font-family="Liberation Sans" stroke="#3a3ad2" stroke-width="0.1" >500.00</text>
<line x1="42.1" y1="240" x2="44.4" y2="240" stroke="#444" stroke-width="0.6"/>
<text x="41.9" y="241.66" font-size="4.6" fill="#3a3ad2" text-anchor="end" font-family="Liberation Sans" stroke="#3a3ad2" stroke-width="0.1" >0.00</text>
<line x1="42.6" y1="204.67" x2="44.4" y2="204.67" stroke="#444" stroke-width="0.5"/>
<line x1="42.6" y1="209.08" x2="44.4" y2="209.08" stroke="#444" stroke-width="0.5"/>
<line x1="42.6" y1="217.92" x2="44.4" y2="217.92" stroke="#444" stroke-width="0.5"/>
<line x1="42.6" y1="222.33" x2="44.4" y2="222.33" stroke="#444" stroke-width="0.5"/>
<line x1="42.6" y1="226.75" x2="44.4" y2="226.75" stroke="#444" stroke-width="0.5"/>
<line x1="42.6" y1="231.17" x2="44.4" y2="231.17" stroke="#444" stroke-width="0.5"/>
<line x1="42.6" y1="235.58" x2="44.4" y2="235.58" stroke="#444" stroke-width="0.5"/>
<line x1="44.4" y1="241.8" x2="316" y2="241.8" stroke="#444" stroke-width="0.8"/>
<line x1="44.4" y1="241.8" x2="44.4" y2="244.4" stroke="#444" stroke-width="0.5"/>
<text x="44.4" y="250.6" font-size="5.2" fill="#3a3ad2" text-anchor="middle" font-family="Liberation Sans" stroke="#3a3ad2" stroke-width="0.1" >0</text>
<line x1="46.08" y1="241.8" x2="46.08" y2="243.4" stroke="#666" stroke-width="0.4"/>
<line x1="47.76" y1="241.8" x2="47.76" y2="243.4" stroke="#666" stroke-width="0.4"/>
<line x1="49.43" y1="241.8" x2="49.43" y2="243.4" stroke="#666" stroke-width="0.4"/>
<line x1="51.11" y1="241.8" x2="51.11" y2="243.4" stroke="#666" stroke-width="0.4"/>
<line x1="52.79" y1="241.8" x2="52.79" y2="244" stroke="#444" stroke-width="0.5"/>
<line x1="54.47" y1="241.8" x2="54.47" y2="243.4" stroke="#666" stroke-width="0.4"/>
<line x1="56.15" y1="241.8" x2="56.15" y2="243.4" stroke="#666" stroke-width="0.4"/>
<line x1="57.82" y1="241.8" x2="57.82" y2="243.4" stroke="#666" stroke-width="0.4"/>
<line x1="59.5" y1="241.8" x2="59.5" y2="243.4" stroke="#666" stroke-width="0.4"/>
<line x1="61.18" y1="241.8" x2="61.18" y2="244.4" stroke="#444" stroke-width="0.5"/>
<text x="61.18" y="250.6" font-size="5.2" fill="#3a3ad2" text-anchor="middle" font-family="Liberation Sans" stroke="#3a3ad2" stroke-width="0.1" >2</text>
<line x1="62.86" y1="241.8" x2="62.86" y2="243.4" stroke="#666" stroke-width="0.4"/>
<line x1="64.54" y1="241.8" x2="64.54" y2="243.4" stroke="#666" stroke-width="0.4"/>
<line x1="66.21" y1="241.8" x2="66.21" y2="243.4" stroke="#666" stroke-width="0.4"/>
<line x1="67.89" y1="241.8" x2="67.89" y2="243.4" stroke="#666" stroke-width="0.4"/>
<line x1="69.57" y1="241.8" x2="69.57" y2="244" stroke="#444" stroke-width="0.5"/>
<line x1="71.25" y1="241.8" x2="71.25" y2="243.4" stroke="#666" stroke-width="0.4"/>
<line x1="72.93" y1="241.8" x2="72.93" y2="243.4" stroke="#666" stroke-width="0.4"/>
<line x1="74.6" y1="241.8" x2="74.6" y2="243.4" stroke="#666" stroke-width="0.4"/>
<line x1="76.28" y1="241.8" x2="76.28" y2="243.4" stroke="#666" stroke-width="0.4"/>
<line x1="77.96" y1="241.8" x2="77.96" y2="244.4" stroke="#444" stroke-width="0.5"/>
<text x="77.96" y="250.6" font-size="5.2" fill="#3a3ad2" text-anchor="middle" font-family="Liberation Sans" stroke="#3a3ad2" stroke-width="0.1" >4</text>
<line x1="79.64" y1="241.8" x2="79.64" y2="243.4" stroke="#666" stroke-width="0.4"/>
<line x1="81.32" y1="241.8" x2="81.32" y2="243.4" stroke="#666" stroke-width="0.4"/>
<line x1="82.99" y1="241.8" x2="82.99" y2="243.4" stroke="#666" stroke-width="0.4"/>
<line x1="84.67" y1="241.8" x2="84.67" y2="243.4" stroke="#666" stroke-width="0.4"/>
<line x1="86.35" y1="241.8" x2="86.35" y2="244" stroke="#444" stroke-width="0.5"/>
<line x1="88.03" y1="241.8" x2="88.03" y2="243.4" stroke="#666" stroke-width="0.4"/>
<line x1="89.71" y1="241.8" x2="89.71" y2="243.4" stroke="#666" stroke-width="0.4"/>
<line x1="91.38" y1="241.8" x2="91.38" y2="243.4" stroke="#666" stroke-width="0.4"/>
<line x1="93.06" y1="241.8" x2="93.06" y2="243.4" stroke="#666" stroke-width="0.4"/>
<line x1="94.74" y1="241.8" x2="94.74" y2="244.4" stroke="#444" stroke-width="0.5"/>
<text x="94.74" y="250.6" font-size="5.2" fill="#3a3ad2" text-anchor="middle" font-family="Liberation Sans" stroke="#3a3ad2" stroke-width="0.1" >6</text>
<line x1="96.42" y1="241.8" x2="96.42" y2="243.4" stroke="#666" stroke-width="0.4"/>
<line x1="98.1" y1="241.8" x2="98.1" y2="243.4" stroke="#666" stroke-width="0.4"/>
<line x1="99.77" y1="241.8" x2="99.77" y2="243.4" stroke="#666" stroke-width="0.4"/>
<line x1="101.45" y1="241.8" x2="101.45" y2="243.4" stroke="#666" stroke-width="0.4"/>
<line x1="103.13" y1="241.8" x2="103.13" y2="244" stroke="#444" stroke-width="0.5"/>
<line x1="104.81" y1="241.8" x2="104.81" y2="243.4" stroke="#666" stroke-width="0.4"/>
<line x1="106.49" y1="241.8" x2="106.49" y2="243.4" stroke="#666" stroke-width="0.4"/>
<line x1="108.16" y1="241.8" x2="108.16" y2="243.4" stroke="#666" stroke-width="0.4"/>
<line x1="109.84" y1="241.8" x2="109.84" y2="243.4" stroke="#666" stroke-width="0.4"/>
<line x1="111.52" y1="241.8" x2="111.52" y2="244.4" stroke="#444" stroke-width="0.5"/>
<text x="111.52" y="250.6" font-size="5.2" fill="#3a3ad2" text-anchor="middle" font-family="Liberation Sans" stroke="#3a3ad2" stroke-width="0.1" >8</text>
<line x1="113.2" y1="241.8" x2="113.2" y2="243.4" stroke="#666" stroke-width="0.4"/>
<line x1="114.88" y1="241.8" x2="114.88" y2="243.4" stroke="#666" stroke-width="0.4"/>
<line x1="116.55" y1="241.8" x2="116.55" y2="243.4" stroke="#666" stroke-width="0.4"/>
<line x1="118.23" y1="241.8" x2="118.23" y2="243.4" stroke="#666" stroke-width="0.4"/>
<line x1="119.91" y1="241.8" x2="119.91" y2="244" stroke="#444" stroke-width="0.5"/>
<line x1="121.59" y1="241.8" x2="121.59" y2="243.4" stroke="#666" stroke-width="0.4"/>
<line x1="123.27" y1="241.8" x2="123.27" y2="243.4" stroke="#666" stroke-width="0.4"/>
<line x1="124.94" y1="241.8" x2="124.94" y2="243.4" stroke="#666" stroke-width="0.4"/>
<line x1="126.62" y1="241.8" x2="126.62" y2="243.4" stroke="#666" stroke-width="0.4"/>
<line x1="128.3" y1="241.8" x2="128.3" y2="244.4" stroke="#444" stroke-width="0.5"/>
<text x="128.3" y="250.6" font-size="5.2" fill="#3a3ad2" text-anchor="middle" font-family="Liberation Sans" stroke="#3a3ad2" stroke-width="0.1" >10</text>
<line x1="129.98" y1="241.8" x2="129.98" y2="243.4" stroke="#666" stroke-width="0.4"/>
<line x1="131.66" y1="241.8" x2="131.66" y2="243.4" stroke="#666" stroke-width="0.4"/>
<line x1="133.33" y1="241.8" x2="133.33" y2="243.4" stroke="#666" stroke-width="0.4"/>
<line x1="135.01" y1="241.8" x2="135.01" y2="243.4" stroke="#666" stroke-width="0.4"/>
<line x1="136.69" y1="241.8" x2="136.69" y2="244" stroke="#444" stroke-width="0.5"/>
<line x1="138.37" y1="241.8" x2="138.37" y2="243.4" stroke="#666" stroke-width="0.4"/>
<line x1="140.05" y1="241.8" x2="140.05" y2="243.4" stroke="#666" stroke-width="0.4"/>
<line x1="141.72" y1="241.8" x2="141.72" y2="243.4" stroke="#666" stroke-width="0.4"/>
<line x1="143.4" y1="241.8" x2="143.4" y2="243.4" stroke="#666" stroke-width="0.4"/>
<line x1="145.08" y1="241.8" x2="145.08" y2="244.4" stroke="#444" stroke-width="0.5"/>
<text x="145.08" y="250.6" font-size="5.2" fill="#3a3ad2" text-anchor="middle" font-family="Liberation Sans" stroke="#3a3ad2" stroke-width="0.1" >12</text>
<line x1="146.76" y1="241.8" x2="146.76" y2="243.4" stroke="#666" stroke-width="0.4"/>
<line x1="148.44" y1="241.8" x2="148.44" y2="243.4" stroke="#666" stroke-width="0.4"/>
<line x1="150.11" y1="241.8" x2="150.11" y2="243.4" stroke="#666" stroke-width="0.4"/>
<line x1="151.79" y1="241.8" x2="151.79" y2="243.4" stroke="#666" stroke-width="0.4"/>
<line x1="153.47" y1="241.8" x2="153.47" y2="244" stroke="#444" stroke-width="0.5"/>
<line x1="155.15" y1="241.8" x2="155.15" y2="243.4" stroke="#666" stroke-width="0.4"/>
<line x1="156.83" y1="241.8" x2="156.83" y2="243.4" stroke="#666" stroke-width="0.4"/>
<line x1="158.5" y1="241.8" x2="158.5" y2="243.4" stroke="#666" stroke-width="0.4"/>
<line x1="160.18" y1="241.8" x2="160.18" y2="243.4" stroke="#666" stroke-width="0.4"/>
<line x1="161.86" y1="241.8" x2="161.86" y2="244.4" stroke="#444" stroke-width="0.5"/>
<text x="161.86" y="250.6" font-size="5.2" fill="#3a3ad2" text-anchor="middle" font-family="Liberation Sans" stroke="#3a3ad2" stroke-width="0.1" >14</text>
<line x1="163.54" y1="241.8" x2="163.54" y2="243.4" stroke="#666" stroke-width="0.4"/>
<line x1="165.22" y1="241.8" x2="165.22" y2="243.4" stroke="#666" stroke-width="0.4"/>
<line x1="166.89" y1="241.8" x2="166.89" y2="243.4" stroke="#666" stroke-width="0.4"/>
<line x1="168.57" y1="241.8" x2="168.57" y2="243.4" stroke="#666" stroke-width="0.4"/>
<line x1="170.25" y1="241.8" x2="170.25" y2="244" stroke="#444" stroke-width="0.5"/>
<line x1="171.93" y1="241.8" x2="171.93" y2="243.4" stroke="#666" stroke-width="0.4"/>
<line x1="173.61" y1="241.8" x2="173.61" y2="243.4" stroke="#666" stroke-width="0.4"/>
<line x1="175.28" y1="241.8" x2="175.28" y2="243.4" stroke="#666" stroke-width="0.4"/>
<line x1="176.96" y1="241.8" x2="176.96" y2="243.4" stroke="#666" stroke-width="0.4"/>
<line x1="178.64" y1="241.8" x2="178.64" y2="244.4" stroke="#444" stroke-width="0.5"/>
<text x="178.64" y="250.6" font-size="5.2" fill="#3a3ad2" text-anchor="middle" font-family="Liberation Sans" stroke="#3a3ad2" stroke-width="0.1" >16</text>
<line x1="180.32" y1="241.8" x2="180.32" y2="243.4" stroke="#666" stroke-width="0.4"/>
<line x1="182" y1="241.8" x2="182" y2="243.4" stroke="#666" stroke-width="0.4"/>
<line x1="183.67" y1="241.8" x2="183.67" y2="243.4" stroke="#666" stroke-width="0.4"/>
<line x1="185.35" y1="241.8" x2="185.35" y2="243.4" stroke="#666" stroke-width="0.4"/>
<line x1="187.03" y1="241.8" x2="187.03" y2="244" stroke="#444" stroke-width="0.5"/>
<line x1="188.71" y1="241.8" x2="188.71" y2="243.4" stroke="#666" stroke-width="0.4"/>
<line x1="190.39" y1="241.8" x2="190.39" y2="243.4" stroke="#666" stroke-width="0.4"/>
<line x1="192.06" y1="241.8" x2="192.06" y2="243.4" stroke="#666" stroke-width="0.4"/>
<line x1="193.74" y1="241.8" x2="193.74" y2="243.4" stroke="#666" stroke-width="0.4"/>
<line x1="195.42" y1="241.8" x2="195.42" y2="244.4" stroke="#444" stroke-width="0.5"/>
<text x="195.42" y="250.6" font-size="5.2" fill="#3a3ad2" text-anchor="middle" font-family="Liberation Sans" stroke="#3a3ad2" stroke-width="0.1" >18</text>
<line x1="197.1" y1="241.8" x2="197.1" y2="243.4" stroke="#666" stroke-width="0.4"/>
<line x1="198.78" y1="241.8" x2="198.78" y2="243.4" stroke="#666" stroke-width="0.4"/>
<line x1="200.45" y1="241.8" x2="200.45" y2="243.4" stroke="#666" stroke-width="0.4"/>
<line x1="202.13" y1="241.8" x2="202.13" y2="243.4" stroke="#666" stroke-width="0.4"/>
<line x1="203.81" y1="241.8" x2="203.81" y2="244" stroke="#444" stroke-width="0.5"/>
<line x1="205.49" y1="241.8" x2="205.49" y2="243.4" stroke="#666" stroke-width="0.4"/>
<line x1="207.17" y1="241.8" x2="207.17" y2="243.4" stroke="#666" stroke-width="0.4"/>
<line x1="208.84" y1="241.8" x2="208.84" y2="243.4" stroke="#666" stroke-width="0.4"/>
<line x1="210.52" y1="241.8" x2="210.52" y2="243.4" stroke="#666" stroke-width="0.4"/>
<line x1="212.2" y1="241.8" x2="212.2" y2="244.4" stroke="#444" stroke-width="0.5"/>
<text x="212.2" y="250.6" font-size="5.2" fill="#3a3ad2" text-anchor="middle" font-family="Liberation Sans" stroke="#3a3ad2" stroke-width="0.1" >20</text>
<line x1="213.88" y1="241.8" x2="213.88" y2="243.4" stroke="#666" stroke-width="0.4"/>
<line x1="215.56" y1="241.8" x2="215.56" y2="243.4" stroke="#666" stroke-width="0.4"/>
<line x1="217.23" y1="241.8" x2="217.23" y2="243.4" stroke="#666" stroke-width="0.4"/>
<line x1="218.91" y1="241.8" x2="218.91" y2="243.4" stroke="#666" stroke-width="0.4"/>
<line x1="220.59" y1="241.8" x2="220.59" y2="244" stroke="#444" stroke-width="0.5"/>
<line x1="222.27" y1="241.8" x2="222.27" y2="243.4" stroke="#666" stroke-width="0.4"/>
<line x1="223.95" y1="241.8" x2="223.95" y2="243.4" stroke="#666" stroke-width="0.4"/>
<line x1="225.62" y1="241.8" x2="225.62" y2="243.4" stroke="#666" stroke-width="0.4"/>
<line x1="227.3" y1="241.8" x2="227.3" y2="243.4" stroke="#666" stroke-width="0.4"/>
<line x1="228.98" y1="241.8" x2="228.98" y2="244.4" stroke="#444" stroke-width="0.5"/>
<text x="228.98" y="250.6" font-size="5.2" fill="#3a3ad2" text-anchor="middle" font-family="Liberation Sans" stroke="#3a3ad2" stroke-width="0.1" >22</text>
<line x1="230.66" y1="241.8" x2="230.66" y2="243.4" stroke="#666" stroke-width="0.4"/>
<line x1="232.34" y1="241.8" x2="232.34" y2="243.4" stroke="#666" stroke-width="0.4"/>
<line x1="234.01" y1="241.8" x2="234.01" y2="243.4" stroke="#666" stroke-width="0.4"/>
<line x1="235.69" y1="241.8" x2="235.69" y2="243.4" stroke="#666" stroke-width="0.4"/>
<line x1="237.37" y1="241.8" x2="237.37" y2="244" stroke="#444" stroke-width="0.5"/>
<line x1="239.05" y1="241.8" x2="239.05" y2="243.4" stroke="#666" stroke-width="0.4"/>
<line x1="240.73" y1="241.8" x2="240.73" y2="243.4" stroke="#666" stroke-width="0.4"/>
<line x1="242.4" y1="241.8" x2="242.4" y2="243.4" stroke="#666" stroke-width="0.4"/>
<line x1="244.08" y1="241.8" x2="244.08" y2="243.4" stroke="#666" stroke-width="0.4"/>
<line x1="245.76" y1="241.8" x2="245.76" y2="244.4" stroke="#444" stroke-width="0.5"/>
<text x="245.76" y="250.6" font-size="5.2" fill="#3a3ad2" text-anchor="middle" font-family="Liberation Sans" stroke="#3a3ad2" stroke-width="0.1" >24</text>
<line x1="247.44" y1="241.8" x2="247.44" y2="243.4" stroke="#666" stroke-width="0.4"/>
<line x1="249.12" y1="241.8" x2="249.12" y2="243.4" stroke="#666" stroke-width="0.4"/>
<line x1="250.79" y1="241.8" x2="250.79" y2="243.4" stroke="#666" stroke-width="0.4"/>
<line x1="252.47" y1="241.8" x2="252.47" y2="243.4" stroke="#666" stroke-width="0.4"/>
<line x1="254.15" y1="241.8" x2="254.15" y2="244" stroke="#444" stroke-width="0.5"/>
<line x1="255.83" y1="241.8" x2="255.83" y2="243.4" stroke="#666" stroke-width="0.4"/>
<line x1="257.51" y1="241.8" x2="257.51" y2="243.4" stroke="#666" stroke-width="0.4"/>
<line x1="259.18" y1="241.8" x2="259.18" y2="243.4" stroke="#666" stroke-width="0.4"/>
<line x1="260.86" y1="241.8" x2="260.86" y2="243.4" stroke="#666" stroke-width="0.4"/>
<line x1="262.54" y1="241.8" x2="262.54" y2="244.4" stroke="#444" stroke-width="0.5"/>
<text x="262.54" y="250.6" font-size="5.2" fill="#3a3ad2" text-anchor="middle" font-family="Liberation Sans" stroke="#3a3ad2" stroke-width="0.1" >26</text>
<line x1="264.22" y1="241.8" x2="264.22" y2="243.4" stroke="#666" stroke-width="0.4"/>
<line x1="265.9" y1="241.8" x2="265.9" y2="243.4" stroke="#666" stroke-width="0.4"/>
<line x1="267.57" y1="241.8" x2="267.57" y2="243.4" stroke="#666" stroke-width="0.4"/>
<line x1="269.25" y1="241.8" x2="269.25" y2="243.4" stroke="#666" stroke-width="0.4"/>
<line x1="270.93" y1="241.8" x2="270.93" y2="244" stroke="#444" stroke-width="0.5"/>
<line x1="272.61" y1="241.8" x2="272.61" y2="243.4" stroke="#666" stroke-width="0.4"/>
<line x1="274.29" y1="241.8" x2="274.29" y2="243.4" stroke="#666" stroke-width="0.4"/>
<line x1="275.96" y1="241.8" x2="275.96" y2="243.4" stroke="#666" stroke-width="0.4"/>
<line x1="277.64" y1="241.8" x2="277.64" y2="243.4" stroke="#666" stroke-width="0.4"/>
<line x1="279.32" y1="241.8" x2="279.32" y2="244.4" stroke="#444" stroke-width="0.5"/>
<text x="279.32" y="250.6" font-size="5.2" fill="#3a3ad2" text-anchor="middle" font-family="Liberation Sans" stroke="#3a3ad2" stroke-width="0.1" >28</text>
<line x1="281" y1="241.8" x2="281" y2="243.4" stroke="#666" stroke-width="0.4"/>
<line x1="282.68" y1="241.8" x2="282.68" y2="243.4" stroke="#666" stroke-width="0.4"/>
<line x1="284.35" y1="241.8" x2="284.35" y2="243.4" stroke="#666" stroke-width="0.4"/>
<line x1="286.03" y1="241.8" x2="286.03" y2="243.4" stroke="#666" stroke-width="0.4"/>
<line x1="287.71" y1="241.8" x2="287.71" y2="244" stroke="#444" stroke-width="0.5"/>
<line x1="289.39" y1="241.8" x2="289.39" y2="243.4" stroke="#666" stroke-width="0.4"/>
<line x1="291.07" y1="241.8" x2="291.07" y2="243.4" stroke="#666" stroke-width="0.4"/>
<line x1="292.74" y1="241.8" x2="292.74" y2="243.4" stroke="#666" stroke-width="0.4"/>
<line x1="294.42" y1="241.8" x2="294.42" y2="243.4" stroke="#666" stroke-width="0.4"/>
<line x1="296.1" y1="241.8" x2="296.1" y2="244.4" stroke="#444" stroke-width="0.5"/>
<text x="296.1" y="250.6" font-size="5.2" fill="#3a3ad2" text-anchor="middle" font-family="Liberation Sans" stroke="#3a3ad2" stroke-width="0.1" >30</text>
<line x1="297.78" y1="241.8" x2="297.78" y2="243.4" stroke="#666" stroke-width="0.4"/>
<line x1="299.46" y1="241.8" x2="299.46" y2="243.4" stroke="#666" stroke-width="0.4"/>
<line x1="301.13" y1="241.8" x2="301.13" y2="243.4" stroke="#666" stroke-width="0.4"/>
<line x1="302.81" y1="241.8" x2="302.81" y2="243.4" stroke="#666" stroke-width="0.4"/>
<line x1="304.49" y1="241.8" x2="304.49" y2="244" stroke="#444" stroke-width="0.5"/>
<line x1="306.17" y1="241.8" x2="306.17" y2="243.4" stroke="#666" stroke-width="0.4"/>
<line x1="307.85" y1="241.8" x2="307.85" y2="243.4" stroke="#666" stroke-width="0.4"/>
<line x1="309.52" y1="241.8" x2="309.52" y2="243.4" stroke="#666" stroke-width="0.4"/>
<line x1="311.2" y1="241.8" x2="311.2" y2="243.4" stroke="#666" stroke-width="0.4"/>
<line x1="312.88" y1="241.8" x2="312.88" y2="244.4" stroke="#444" stroke-width="0.5"/>
<text x="312.88" y="250.6" font-size="5.2" fill="#3a3ad2" text-anchor="middle" font-family="Liberation Sans" stroke="#3a3ad2" stroke-width="0.1" >32</text>
<line x1="314.56" y1="241.8" x2="314.56" y2="243.4" stroke="#666" stroke-width="0.4"/>
<text x="0" y="0" font-size="6.6" fill="#3562ad" text-anchor="middle" stroke="#3562ad" stroke-width="0.15" transform="translate(21.7,243.4) rotate(-90)">Response [mV]</text>
<rect x="52.1" y="204.7" width="19.7" height="23.5" fill="none" stroke="#e3e3e3" stroke-width="0.9"/>
<text x="61.2" y="217.5" font-size="10.8" fill="#1a1a1a" text-anchor="middle" stroke="#1a1a1a" stroke-width="0.15" >II</text>
<text x="77.1" y="218.6" font-size="6.58" fill="#1a1a1a" text-anchor="start" stroke="#1a1a1a" stroke-width="0.12" >Mixed Lignans</text>
<polyline points="44.4,239.6 148.2,239.48 148.5,239.37 148.8,239.23 149.1,239.07 149.4,238.95 150,238.95 150.3,239.07 150.6,239.23 150.9,239.37 151.5,239.52 152.1,239.43 152.4,239.29 152.7,239.16 153.3,239.16 153.6,239.3 153.9,239.44 154.5,239.58 157.2,239.56 157.5,239.38 157.8,238.69 158.1,236.55 158.4,231.5 158.7,222.59 159,211.35 159.3,202.48 159.6,200.8 159.9,205.03 160.2,212.78 160.5,221.49 160.8,228.95 161.1,234.15 161.4,237.17 161.7,238.66 162,239.28 162.3,239.51 171.9,239.5 172.2,239.36 172.5,239.18 173.1,239.18 173.4,239.36 173.7,239.5 178.5,239.5 178.8,239.22 179.1,238.42 179.4,236.78 179.7,234.32 180,231.92 180.3,230.9 180.6,231.62 180.9,233.45 181.2,235.62 181.5,237.43 181.8,238.61 182.1,239.22 182.4,239.48 183.3,239.6 190.5,239.48 190.8,239.19 191.1,238.47 191.4,237.02 191.7,234.7 192,231.84 192.3,229.38 192.6,228.4 192.9,229.09 193.2,230.92 193.5,233.29 193.8,235.56 194.1,237.33 194.4,238.47 194.7,239.11 195,239.41 195.3,239.54 198.9,239.55 199.2,239.42 199.5,239.06 199.8,238.23 200.1,236.64 200.4,234.13 200.7,231 201,228.06 201.3,226.42 201.6,226.62 201.9,228.2 202.2,230.64 202.5,233.3 202.8,235.63 203.1,237.37 203.4,238.47 203.7,239.09 204,239.4 204.3,239.53 215.7,239.67 216.9,239.79 218.1,239.91 219.3,240.03 220.5,240.15 221.7,240.27 241.8,240.07 242.1,239.93 242.4,239.77 242.7,239.65 243.3,239.65 243.6,239.77 243.9,239.93 244.2,240.07 244.8,240.24 274.2,240.22 274.5,240.1 274.8,239.98 275.1,239.86 275.4,239.74 275.7,239.62 315.9,239.5" fill="none" stroke="#f5a04a" stroke-width="0.8" stroke-linejoin="round" />
<text x="155.2" y="205.6" font-size="5" fill="#333" text-anchor="middle" >(a)</text>
<text x="180.1" y="227.6" font-size="5" fill="#333" text-anchor="middle" >(b)</text>
<text x="193.1" y="224.7" font-size="5" fill="#333" text-anchor="middle" >(c)</text>
<line x1="44.4" y1="257" x2="44.4" y2="292.8" stroke="#444" stroke-width="0.8"/>
<line x1="42.1" y1="269.6" x2="44.4" y2="269.6" stroke="#444" stroke-width="0.6"/>
<text x="41.9" y="271.26" font-size="4.6" fill="#3a3ad2" text-anchor="end" font-family="Liberation Sans" stroke="#3a3ad2" stroke-width="0.1" >500.00</text>
<line x1="42.1" y1="290.9" x2="44.4" y2="290.9" stroke="#444" stroke-width="0.6"/>
<text x="41.9" y="292.56" font-size="4.6" fill="#3a3ad2" text-anchor="end" font-family="Liberation Sans" stroke="#3a3ad2" stroke-width="0.1" >0.00</text>
<line x1="42.6" y1="261.08" x2="44.4" y2="261.08" stroke="#444" stroke-width="0.5"/>
<line x1="42.6" y1="265.34" x2="44.4" y2="265.34" stroke="#444" stroke-width="0.5"/>
<line x1="42.6" y1="273.86" x2="44.4" y2="273.86" stroke="#444" stroke-width="0.5"/>
<line x1="42.6" y1="278.12" x2="44.4" y2="278.12" stroke="#444" stroke-width="0.5"/>
<line x1="42.6" y1="282.38" x2="44.4" y2="282.38" stroke="#444" stroke-width="0.5"/>
<line x1="42.6" y1="286.64" x2="44.4" y2="286.64" stroke="#444" stroke-width="0.5"/>
<line x1="44.4" y1="292.8" x2="316" y2="292.8" stroke="#444" stroke-width="0.8"/>
<line x1="44.4" y1="292.8" x2="44.4" y2="295.4" stroke="#444" stroke-width="0.5"/>
<text x="44.4" y="299.5" font-size="5.2" fill="#3a3ad2" text-anchor="middle" font-family="Liberation Sans" stroke="#3a3ad2" stroke-width="0.1" >0</text>
<line x1="46.08" y1="292.8" x2="46.08" y2="294.4" stroke="#666" stroke-width="0.4"/>
<line x1="47.76" y1="292.8" x2="47.76" y2="294.4" stroke="#666" stroke-width="0.4"/>
<line x1="49.43" y1="292.8" x2="49.43" y2="294.4" stroke="#666" stroke-width="0.4"/>
<line x1="51.11" y1="292.8" x2="51.11" y2="294.4" stroke="#666" stroke-width="0.4"/>
<line x1="52.79" y1="292.8" x2="52.79" y2="295" stroke="#444" stroke-width="0.5"/>
<line x1="54.47" y1="292.8" x2="54.47" y2="294.4" stroke="#666" stroke-width="0.4"/>
<line x1="56.15" y1="292.8" x2="56.15" y2="294.4" stroke="#666" stroke-width="0.4"/>
<line x1="57.82" y1="292.8" x2="57.82" y2="294.4" stroke="#666" stroke-width="0.4"/>
<line x1="59.5" y1="292.8" x2="59.5" y2="294.4" stroke="#666" stroke-width="0.4"/>
<line x1="61.18" y1="292.8" x2="61.18" y2="295.4" stroke="#444" stroke-width="0.5"/>
<text x="61.18" y="299.5" font-size="5.2" fill="#3a3ad2" text-anchor="middle" font-family="Liberation Sans" stroke="#3a3ad2" stroke-width="0.1" >2</text>
<line x1="62.86" y1="292.8" x2="62.86" y2="294.4" stroke="#666" stroke-width="0.4"/>
<line x1="64.54" y1="292.8" x2="64.54" y2="294.4" stroke="#666" stroke-width="0.4"/>
<line x1="66.21" y1="292.8" x2="66.21" y2="294.4" stroke="#666" stroke-width="0.4"/>
<line x1="67.89" y1="292.8" x2="67.89" y2="294.4" stroke="#666" stroke-width="0.4"/>
<line x1="69.57" y1="292.8" x2="69.57" y2="295" stroke="#444" stroke-width="0.5"/>
<line x1="71.25" y1="292.8" x2="71.25" y2="294.4" stroke="#666" stroke-width="0.4"/>
<line x1="72.93" y1="292.8" x2="72.93" y2="294.4" stroke="#666" stroke-width="0.4"/>
<line x1="74.6" y1="292.8" x2="74.6" y2="294.4" stroke="#666" stroke-width="0.4"/>
<line x1="76.28" y1="292.8" x2="76.28" y2="294.4" stroke="#666" stroke-width="0.4"/>
<line x1="77.96" y1="292.8" x2="77.96" y2="295.4" stroke="#444" stroke-width="0.5"/>
<text x="77.96" y="299.5" font-size="5.2" fill="#3a3ad2" text-anchor="middle" font-family="Liberation Sans" stroke="#3a3ad2" stroke-width="0.1" >4</text>
<line x1="79.64" y1="292.8" x2="79.64" y2="294.4" stroke="#666" stroke-width="0.4"/>
<line x1="81.32" y1="292.8" x2="81.32" y2="294.4" stroke="#666" stroke-width="0.4"/>
<line x1="82.99" y1="292.8" x2="82.99" y2="294.4" stroke="#666" stroke-width="0.4"/>
<line x1="84.67" y1="292.8" x2="84.67" y2="294.4" stroke="#666" stroke-width="0.4"/>
<line x1="86.35" y1="292.8" x2="86.35" y2="295" stroke="#444" stroke-width="0.5"/>
<line x1="88.03" y1="292.8" x2="88.03" y2="294.4" stroke="#666" stroke-width="0.4"/>
<line x1="89.71" y1="292.8" x2="89.71" y2="294.4" stroke="#666" stroke-width="0.4"/>
<line x1="91.38" y1="292.8" x2="91.38" y2="294.4" stroke="#666" stroke-width="0.4"/>
<line x1="93.06" y1="292.8" x2="93.06" y2="294.4" stroke="#666" stroke-width="0.4"/>
<line x1="94.74" y1="292.8" x2="94.74" y2="295.4" stroke="#444" stroke-width="0.5"/>
<text x="94.74" y="299.5" font-size="5.2" fill="#3a3ad2" text-anchor="middle" font-family="Liberation Sans" stroke="#3a3ad2" stroke-width="0.1" >6</text>
<line x1="96.42" y1="292.8" x2="96.42" y2="294.4" stroke="#666" stroke-width="0.4"/>
<line x1="98.1" y1="292.8" x2="98.1" y2="294.4" stroke="#666" stroke-width="0.4"/>
<line x1="99.77" y1="292.8" x2="99.77" y2="294.4" stroke="#666" stroke-width="0.4"/>
<line x1="101.45" y1="292.8" x2="101.45" y2="294.4" stroke="#666" stroke-width="0.4"/>
<line x1="103.13" y1="292.8" x2="103.13" y2="295" stroke="#444" stroke-width="0.5"/>
<line x1="104.81" y1="292.8" x2="104.81" y2="294.4" stroke="#666" stroke-width="0.4"/>
<line x1="106.49" y1="292.8" x2="106.49" y2="294.4" stroke="#666" stroke-width="0.4"/>
<line x1="108.16" y1="292.8" x2="108.16" y2="294.4" stroke="#666" stroke-width="0.4"/>
<line x1="109.84" y1="292.8" x2="109.84" y2="294.4" stroke="#666" stroke-width="0.4"/>
<line x1="111.52" y1="292.8" x2="111.52" y2="295.4" stroke="#444" stroke-width="0.5"/>
<text x="111.52" y="299.5" font-size="5.2" fill="#3a3ad2" text-anchor="middle" font-family="Liberation Sans" stroke="#3a3ad2" stroke-width="0.1" >8</text>
<line x1="113.2" y1="292.8" x2="113.2" y2="294.4" stroke="#666" stroke-width="0.4"/>
<line x1="114.88" y1="292.8" x2="114.88" y2="294.4" stroke="#666" stroke-width="0.4"/>
<line x1="116.55" y1="292.8" x2="116.55" y2="294.4" stroke="#666" stroke-width="0.4"/>
<line x1="118.23" y1="292.8" x2="118.23" y2="294.4" stroke="#666" stroke-width="0.4"/>
<line x1="119.91" y1="292.8" x2="119.91" y2="295" stroke="#444" stroke-width="0.5"/>
<line x1="121.59" y1="292.8" x2="121.59" y2="294.4" stroke="#666" stroke-width="0.4"/>
<line x1="123.27" y1="292.8" x2="123.27" y2="294.4" stroke="#666" stroke-width="0.4"/>
<line x1="124.94" y1="292.8" x2="124.94" y2="294.4" stroke="#666" stroke-width="0.4"/>
<line x1="126.62" y1="292.8" x2="126.62" y2="294.4" stroke="#666" stroke-width="0.4"/>
<line x1="128.3" y1="292.8" x2="128.3" y2="295.4" stroke="#444" stroke-width="0.5"/>
<text x="128.3" y="299.5" font-size="5.2" fill="#3a3ad2" text-anchor="middle" font-family="Liberation Sans" stroke="#3a3ad2" stroke-width="0.1" >10</text>
<line x1="129.98" y1="292.8" x2="129.98" y2="294.4" stroke="#666" stroke-width="0.4"/>
<line x1="131.66" y1="292.8" x2="131.66" y2="294.4" stroke="#666" stroke-width="0.4"/>
<line x1="133.33" y1="292.8" x2="133.33" y2="294.4" stroke="#666" stroke-width="0.4"/>
<line x1="135.01" y1="292.8" x2="135.01" y2="294.4" stroke="#666" stroke-width="0.4"/>
<line x1="136.69" y1="292.8" x2="136.69" y2="295" stroke="#444" stroke-width="0.5"/>
<line x1="138.37" y1="292.8" x2="138.37" y2="294.4" stroke="#666" stroke-width="0.4"/>
<line x1="140.05" y1="292.8" x2="140.05" y2="294.4" stroke="#666" stroke-width="0.4"/>
<line x1="141.72" y1="292.8" x2="141.72" y2="294.4" stroke="#666" stroke-width="0.4"/>
<line x1="143.4" y1="292.8" x2="143.4" y2="294.4" stroke="#666" stroke-width="0.4"/>
<line x1="145.08" y1="292.8" x2="145.08" y2="295.4" stroke="#444" stroke-width="0.5"/>
<text x="145.08" y="299.5" font-size="5.2" fill="#3a3ad2" text-anchor="middle" font-family="Liberation Sans" stroke="#3a3ad2" stroke-width="0.1" >12</text>
<line x1="146.76" y1="292.8" x2="146.76" y2="294.4" stroke="#666" stroke-width="0.4"/>
<line x1="148.44" y1="292.8" x2="148.44" y2="294.4" stroke="#666" stroke-width="0.4"/>
<line x1="150.11" y1="292.8" x2="150.11" y2="294.4" stroke="#666" stroke-width="0.4"/>
<line x1="151.79" y1="292.8" x2="151.79" y2="294.4" stroke="#666" stroke-width="0.4"/>
<line x1="153.47" y1="292.8" x2="153.47" y2="295" stroke="#444" stroke-width="0.5"/>
<line x1="155.15" y1="292.8" x2="155.15" y2="294.4" stroke="#666" stroke-width="0.4"/>
<line x1="156.83" y1="292.8" x2="156.83" y2="294.4" stroke="#666" stroke-width="0.4"/>
<line x1="158.5" y1="292.8" x2="158.5" y2="294.4" stroke="#666" stroke-width="0.4"/>
<line x1="160.18" y1="292.8" x2="160.18" y2="294.4" stroke="#666" stroke-width="0.4"/>
<line x1="161.86" y1="292.8" x2="161.86" y2="295.4" stroke="#444" stroke-width="0.5"/>
<text x="161.86" y="299.5" font-size="5.2" fill="#3a3ad2" text-anchor="middle" font-family="Liberation Sans" stroke="#3a3ad2" stroke-width="0.1" >14</text>
<line x1="163.54" y1="292.8" x2="163.54" y2="294.4" stroke="#666" stroke-width="0.4"/>
<line x1="165.22" y1="292.8" x2="165.22" y2="294.4" stroke="#666" stroke-width="0.4"/>
<line x1="166.89" y1="292.8" x2="166.89" y2="294.4" stroke="#666" stroke-width="0.4"/>
<line x1="168.57" y1="292.8" x2="168.57" y2="294.4" stroke="#666" stroke-width="0.4"/>
<line x1="170.25" y1="292.8" x2="170.25" y2="295" stroke="#444" stroke-width="0.5"/>
<line x1="171.93" y1="292.8" x2="171.93" y2="294.4" stroke="#666" stroke-width="0.4"/>
<line x1="173.61" y1="292.8" x2="173.61" y2="294.4" stroke="#666" stroke-width="0.4"/>
<line x1="175.28" y1="292.8" x2="175.28" y2="294.4" stroke="#666" stroke-width="0.4"/>
<line x1="176.96" y1="292.8" x2="176.96" y2="294.4" stroke="#666" stroke-width="0.4"/>
<line x1="178.64" y1="292.8" x2="178.64" y2="295.4" stroke="#444" stroke-width="0.5"/>
<text x="178.64" y="299.5" font-size="5.2" fill="#3a3ad2" text-anchor="middle" font-family="Liberation Sans" stroke="#3a3ad2" stroke-width="0.1" >16</text>
<line x1="180.32" y1="292.8" x2="180.32" y2="294.4" stroke="#666" stroke-width="0.4"/>
<line x1="182" y1="292.8" x2="182" y2="294.4" stroke="#666" stroke-width="0.4"/>
<line x1="183.67" y1="292.8" x2="183.67" y2="294.4" stroke="#666" stroke-width="0.4"/>
<line x1="185.35" y1="292.8" x2="185.35" y2="294.4" stroke="#666" stroke-width="0.4"/>
<line x1="187.03" y1="292.8" x2="187.03" y2="295" stroke="#444" stroke-width="0.5"/>
<line x1="188.71" y1="292.8" x2="188.71" y2="294.4" stroke="#666" stroke-width="0.4"/>
<line x1="190.39" y1="292.8" x2="190.39" y2="294.4" stroke="#666" stroke-width="0.4"/>
<line x1="192.06" y1="292.8" x2="192.06" y2="294.4" stroke="#666" stroke-width="0.4"/>
<line x1="193.74" y1="292.8" x2="193.74" y2="294.4" stroke="#666" stroke-width="0.4"/>
<line x1="195.42" y1="292.8" x2="195.42" y2="295.4" stroke="#444" stroke-width="0.5"/>
<text x="195.42" y="299.5" font-size="5.2" fill="#3a3ad2" text-anchor="middle" font-family="Liberation Sans" stroke="#3a3ad2" stroke-width="0.1" >18</text>
<line x1="197.1" y1="292.8" x2="197.1" y2="294.4" stroke="#666" stroke-width="0.4"/>
<line x1="198.78" y1="292.8" x2="198.78" y2="294.4" stroke="#666" stroke-width="0.4"/>
<line x1="200.45" y1="292.8" x2="200.45" y2="294.4" stroke="#666" stroke-width="0.4"/>
<line x1="202.13" y1="292.8" x2="202.13" y2="294.4" stroke="#666" stroke-width="0.4"/>
<line x1="203.81" y1="292.8" x2="203.81" y2="295" stroke="#444" stroke-width="0.5"/>
<line x1="205.49" y1="292.8" x2="205.49" y2="294.4" stroke="#666" stroke-width="0.4"/>
<line x1="207.17" y1="292.8" x2="207.17" y2="294.4" stroke="#666" stroke-width="0.4"/>
<line x1="208.84" y1="292.8" x2="208.84" y2="294.4" stroke="#666" stroke-width="0.4"/>
<line x1="210.52" y1="292.8" x2="210.52" y2="294.4" stroke="#666" stroke-width="0.4"/>
<line x1="212.2" y1="292.8" x2="212.2" y2="295.4" stroke="#444" stroke-width="0.5"/>
<text x="212.2" y="299.5" font-size="5.2" fill="#3a3ad2" text-anchor="middle" font-family="Liberation Sans" stroke="#3a3ad2" stroke-width="0.1" >20</text>
<line x1="213.88" y1="292.8" x2="213.88" y2="294.4" stroke="#666" stroke-width="0.4"/>
<line x1="215.56" y1="292.8" x2="215.56" y2="294.4" stroke="#666" stroke-width="0.4"/>
<line x1="217.23" y1="292.8" x2="217.23" y2="294.4" stroke="#666" stroke-width="0.4"/>
<line x1="218.91" y1="292.8" x2="218.91" y2="294.4" stroke="#666" stroke-width="0.4"/>
<line x1="220.59" y1="292.8" x2="220.59" y2="295" stroke="#444" stroke-width="0.5"/>
<line x1="222.27" y1="292.8" x2="222.27" y2="294.4" stroke="#666" stroke-width="0.4"/>
<line x1="223.95" y1="292.8" x2="223.95" y2="294.4" stroke="#666" stroke-width="0.4"/>
<line x1="225.62" y1="292.8" x2="225.62" y2="294.4" stroke="#666" stroke-width="0.4"/>
<line x1="227.3" y1="292.8" x2="227.3" y2="294.4" stroke="#666" stroke-width="0.4"/>
<line x1="228.98" y1="292.8" x2="228.98" y2="295.4" stroke="#444" stroke-width="0.5"/>
<text x="228.98" y="299.5" font-size="5.2" fill="#3a3ad2" text-anchor="middle" font-family="Liberation Sans" stroke="#3a3ad2" stroke-width="0.1" >22</text>
<line x1="230.66" y1="292.8" x2="230.66" y2="294.4" stroke="#666" stroke-width="0.4"/>
<line x1="232.34" y1="292.8" x2="232.34" y2="294.4" stroke="#666" stroke-width="0.4"/>
<line x1="234.01" y1="292.8" x2="234.01" y2="294.4" stroke="#666" stroke-width="0.4"/>
<line x1="235.69" y1="292.8" x2="235.69" y2="294.4" stroke="#666" stroke-width="0.4"/>
<line x1="237.37" y1="292.8" x2="237.37" y2="295" stroke="#444" stroke-width="0.5"/>
<line x1="239.05" y1="292.8" x2="239.05" y2="294.4" stroke="#666" stroke-width="0.4"/>
<line x1="240.73" y1="292.8" x2="240.73" y2="294.4" stroke="#666" stroke-width="0.4"/>
<line x1="242.4" y1="292.8" x2="242.4" y2="294.4" stroke="#666" stroke-width="0.4"/>
<line x1="244.08" y1="292.8" x2="244.08" y2="294.4" stroke="#666" stroke-width="0.4"/>
<line x1="245.76" y1="292.8" x2="245.76" y2="295.4" stroke="#444" stroke-width="0.5"/>
<text x="245.76" y="299.5" font-size="5.2" fill="#3a3ad2" text-anchor="middle" font-family="Liberation Sans" stroke="#3a3ad2" stroke-width="0.1" >24</text>
<line x1="247.44" y1="292.8" x2="247.44" y2="294.4" stroke="#666" stroke-width="0.4"/>
<line x1="249.12" y1="292.8" x2="249.12" y2="294.4" stroke="#666" stroke-width="0.4"/>
<line x1="250.79" y1="292.8" x2="250.79" y2="294.4" stroke="#666" stroke-width="0.4"/>
<line x1="252.47" y1="292.8" x2="252.47" y2="294.4" stroke="#666" stroke-width="0.4"/>
<line x1="254.15" y1="292.8" x2="254.15" y2="295" stroke="#444" stroke-width="0.5"/>
<line x1="255.83" y1="292.8" x2="255.83" y2="294.4" stroke="#666" stroke-width="0.4"/>
<line x1="257.51" y1="292.8" x2="257.51" y2="294.4" stroke="#666" stroke-width="0.4"/>
<line x1="259.18" y1="292.8" x2="259.18" y2="294.4" stroke="#666" stroke-width="0.4"/>
<line x1="260.86" y1="292.8" x2="260.86" y2="294.4" stroke="#666" stroke-width="0.4"/>
<line x1="262.54" y1="292.8" x2="262.54" y2="295.4" stroke="#444" stroke-width="0.5"/>
<text x="262.54" y="299.5" font-size="5.2" fill="#3a3ad2" text-anchor="middle" font-family="Liberation Sans" stroke="#3a3ad2" stroke-width="0.1" >26</text>
<line x1="264.22" y1="292.8" x2="264.22" y2="294.4" stroke="#666" stroke-width="0.4"/>
<line x1="265.9" y1="292.8" x2="265.9" y2="294.4" stroke="#666" stroke-width="0.4"/>
<line x1="267.57" y1="292.8" x2="267.57" y2="294.4" stroke="#666" stroke-width="0.4"/>
<line x1="269.25" y1="292.8" x2="269.25" y2="294.4" stroke="#666" stroke-width="0.4"/>
<line x1="270.93" y1="292.8" x2="270.93" y2="295" stroke="#444" stroke-width="0.5"/>
<line x1="272.61" y1="292.8" x2="272.61" y2="294.4" stroke="#666" stroke-width="0.4"/>
<line x1="274.29" y1="292.8" x2="274.29" y2="294.4" stroke="#666" stroke-width="0.4"/>
<line x1="275.96" y1="292.8" x2="275.96" y2="294.4" stroke="#666" stroke-width="0.4"/>
<line x1="277.64" y1="292.8" x2="277.64" y2="294.4" stroke="#666" stroke-width="0.4"/>
<line x1="279.32" y1="292.8" x2="279.32" y2="295.4" stroke="#444" stroke-width="0.5"/>
<text x="279.32" y="299.5" font-size="5.2" fill="#3a3ad2" text-anchor="middle" font-family="Liberation Sans" stroke="#3a3ad2" stroke-width="0.1" >28</text>
<line x1="281" y1="292.8" x2="281" y2="294.4" stroke="#666" stroke-width="0.4"/>
<line x1="282.68" y1="292.8" x2="282.68" y2="294.4" stroke="#666" stroke-width="0.4"/>
<line x1="284.35" y1="292.8" x2="284.35" y2="294.4" stroke="#666" stroke-width="0.4"/>
<line x1="286.03" y1="292.8" x2="286.03" y2="294.4" stroke="#666" stroke-width="0.4"/>
<line x1="287.71" y1="292.8" x2="287.71" y2="295" stroke="#444" stroke-width="0.5"/>
<line x1="289.39" y1="292.8" x2="289.39" y2="294.4" stroke="#666" stroke-width="0.4"/>
<line x1="291.07" y1="292.8" x2="291.07" y2="294.4" stroke="#666" stroke-width="0.4"/>
<line x1="292.74" y1="292.8" x2="292.74" y2="294.4" stroke="#666" stroke-width="0.4"/>
<line x1="294.42" y1="292.8" x2="294.42" y2="294.4" stroke="#666" stroke-width="0.4"/>
<line x1="296.1" y1="292.8" x2="296.1" y2="295.4" stroke="#444" stroke-width="0.5"/>
<text x="296.1" y="299.5" font-size="5.2" fill="#3a3ad2" text-anchor="middle" font-family="Liberation Sans" stroke="#3a3ad2" stroke-width="0.1" >30</text>
<line x1="297.78" y1="292.8" x2="297.78" y2="294.4" stroke="#666" stroke-width="0.4"/>
<line x1="299.46" y1="292.8" x2="299.46" y2="294.4" stroke="#666" stroke-width="0.4"/>
<line x1="301.13" y1="292.8" x2="301.13" y2="294.4" stroke="#666" stroke-width="0.4"/>
<line x1="302.81" y1="292.8" x2="302.81" y2="294.4" stroke="#666" stroke-width="0.4"/>
<line x1="304.49" y1="292.8" x2="304.49" y2="295" stroke="#444" stroke-width="0.5"/>
<line x1="306.17" y1="292.8" x2="306.17" y2="294.4" stroke="#666" stroke-width="0.4"/>
<line x1="307.85" y1="292.8" x2="307.85" y2="294.4" stroke="#666" stroke-width="0.4"/>
<line x1="309.52" y1="292.8" x2="309.52" y2="294.4" stroke="#666" stroke-width="0.4"/>
<line x1="311.2" y1="292.8" x2="311.2" y2="294.4" stroke="#666" stroke-width="0.4"/>
<line x1="312.88" y1="292.8" x2="312.88" y2="295.4" stroke="#444" stroke-width="0.5"/>
<text x="312.88" y="299.5" font-size="5.2" fill="#3a3ad2" text-anchor="middle" font-family="Liberation Sans" stroke="#3a3ad2" stroke-width="0.1" >32</text>
<line x1="314.56" y1="292.8" x2="314.56" y2="294.4" stroke="#666" stroke-width="0.4"/>
<rect x="52.1" y="256.1" width="25.9" height="20.2" fill="none" stroke="#e3e3e3" stroke-width="0.9"/>
<text x="63.1" y="269" font-size="10.2" fill="#1a1a1a" text-anchor="middle" stroke="#1a1a1a" stroke-width="0.15" >III</text>
<text x="93.2" y="274.4" font-size="6.7" fill="#1a1a1a" text-anchor="start" stroke="#1a1a1a" stroke-width="0.12" >Podophyllotoxin</text>
<polyline points="44.4,291 70.8,290.87 71.4,290.7 73.2,290.87 74.4,291 148.5,290.95 148.8,290.71 149.1,289.64 149.4,286.29 149.7,278.92 150,267.98 150.3,258.43 150.6,256.54 150.9,261.24 151.2,269.45 151.5,277.91 151.8,284.34 152.1,288.15 152.4,289.98 152.7,290.69 153,290.92 241.2,290.87 241.5,290.65 241.8,290.29 242.1,289.88 242.4,289.62 242.7,289.68 243,290.01 243.3,290.42 243.6,290.74 243.9,290.91 315.9,291" fill="none" stroke="#f050ee" stroke-width="0.8" stroke-linejoin="round" />
<text x="150.7" y="254" font-size="5" fill="#444" text-anchor="middle" >(d)</text>
<text x="159.9" y="261.2" font-size="6.6" fill="#3a64a4" text-anchor="start" stroke="#3a64a4" stroke-width="0.15" >Time [min]</text>
<text x="159.2" y="312.6" font-size="6.5" fill="#3a64a4" text-anchor="start" stroke="#3a64a4" stroke-width="0.15" >Time [min.]</text>
<line x1="44.3" y1="317.8" x2="44.3" y2="408.5" stroke="#8a8a8a" stroke-width="0.8"/>
<line x1="42" y1="318.5" x2="44.3" y2="318.5" stroke="#8a8a8a" stroke-width="0.6"/>
<text x="42" y="319.74" font-size="3.45" fill="#3a3ad2" text-anchor="end" font-family="Liberation Sans" >12000.000</text>
<line x1="42" y1="332.7" x2="44.3" y2="332.7" stroke="#8a8a8a" stroke-width="0.6"/>
<text x="42" y="333.94" font-size="3.45" fill="#3a3ad2" text-anchor="end" font-family="Liberation Sans" >10000.000</text>
<line x1="42" y1="347" x2="44.3" y2="347" stroke="#8a8a8a" stroke-width="0.6"/>
<text x="42" y="348.24" font-size="3.45" fill="#3a3ad2" text-anchor="end" font-family="Liberation Sans" >8000.000</text>
<line x1="42" y1="361.2" x2="44.3" y2="361.2" stroke="#8a8a8a" stroke-width="0.6"/>
<text x="42" y="362.44" font-size="3.45" fill="#3a3ad2" text-anchor="end" font-family="Liberation Sans" >6000.000</text>
<line x1="42" y1="375.5" x2="44.3" y2="375.5" stroke="#8a8a8a" stroke-width="0.6"/>
<text x="42" y="376.74" font-size="3.45" fill="#3a3ad2" text-anchor="end" font-family="Liberation Sans" >4000.000</text>
<line x1="42" y1="389.7" x2="44.3" y2="389.7" stroke="#8a8a8a" stroke-width="0.6"/>
<text x="42" y="390.94" font-size="3.45" fill="#3a3ad2" text-anchor="end" font-family="Liberation Sans" >2000.000</text>
<line x1="42" y1="403.9" x2="44.3" y2="403.9" stroke="#8a8a8a" stroke-width="0.6"/>
<text x="42" y="405.14" font-size="3.45" fill="#3a3ad2" text-anchor="end" font-family="Liberation Sans" >0.000</text>
<line x1="42.5" y1="325.6" x2="44.3" y2="325.6" stroke="#8a8a8a" stroke-width="0.5"/>
<line x1="42.5" y1="339.8" x2="44.3" y2="339.8" stroke="#8a8a8a" stroke-width="0.5"/>
<line x1="42.5" y1="354" x2="44.3" y2="354" stroke="#8a8a8a" stroke-width="0.5"/>
<line x1="42.5" y1="368.2" x2="44.3" y2="368.2" stroke="#8a8a8a" stroke-width="0.5"/>
<line x1="42.5" y1="382.4" x2="44.3" y2="382.4" stroke="#8a8a8a" stroke-width="0.5"/>
<line x1="42.5" y1="396.6" x2="44.3" y2="396.6" stroke="#8a8a8a" stroke-width="0.5"/>
<line x1="44.3" y1="408.5" x2="321" y2="408.5" stroke="#555" stroke-width="0.8"/>
<line x1="44.3" y1="408.5" x2="44.3" y2="411.1" stroke="#555" stroke-width="0.5"/>
<text x="44.3" y="413.4" font-size="3.4" fill="#3a3ad2" text-anchor="middle" font-family="Liberation Sans" >0</text>
<line x1="45.98" y1="408.5" x2="45.98" y2="410.1" stroke="#666" stroke-width="0.4"/>
<line x1="47.66" y1="408.5" x2="47.66" y2="410.1" stroke="#666" stroke-width="0.4"/>
<line x1="49.33" y1="408.5" x2="49.33" y2="410.1" stroke="#666" stroke-width="0.4"/>
<line x1="51.01" y1="408.5" x2="51.01" y2="410.1" stroke="#666" stroke-width="0.4"/>
<line x1="52.69" y1="408.5" x2="52.69" y2="410.7" stroke="#555" stroke-width="0.5"/>
<line x1="54.37" y1="408.5" x2="54.37" y2="410.1" stroke="#666" stroke-width="0.4"/>
<line x1="56.05" y1="408.5" x2="56.05" y2="410.1" stroke="#666" stroke-width="0.4"/>
<line x1="57.72" y1="408.5" x2="57.72" y2="410.1" stroke="#666" stroke-width="0.4"/>
<line x1="59.4" y1="408.5" x2="59.4" y2="410.1" stroke="#666" stroke-width="0.4"/>
<line x1="61.08" y1="408.5" x2="61.08" y2="411.1" stroke="#555" stroke-width="0.5"/>
<text x="61.08" y="413.4" font-size="3.4" fill="#3a3ad2" text-anchor="middle" font-family="Liberation Sans" >2</text>
<line x1="62.76" y1="408.5" x2="62.76" y2="410.1" stroke="#666" stroke-width="0.4"/>
<line x1="64.44" y1="408.5" x2="64.44" y2="410.1" stroke="#666" stroke-width="0.4"/>
<line x1="66.11" y1="408.5" x2="66.11" y2="410.1" stroke="#666" stroke-width="0.4"/>
<line x1="67.79" y1="408.5" x2="67.79" y2="410.1" stroke="#666" stroke-width="0.4"/>
<line x1="69.47" y1="408.5" x2="69.47" y2="410.7" stroke="#555" stroke-width="0.5"/>
<line x1="71.15" y1="408.5" x2="71.15" y2="410.1" stroke="#666" stroke-width="0.4"/>
<line x1="72.83" y1="408.5" x2="72.83" y2="410.1" stroke="#666" stroke-width="0.4"/>
<line x1="74.5" y1="408.5" x2="74.5" y2="410.1" stroke="#666" stroke-width="0.4"/>
<line x1="76.18" y1="408.5" x2="76.18" y2="410.1" stroke="#666" stroke-width="0.4"/>
<line x1="77.86" y1="408.5" x2="77.86" y2="411.1" stroke="#555" stroke-width="0.5"/>
<text x="77.86" y="413.4" font-size="3.4" fill="#3a3ad2" text-anchor="middle" font-family="Liberation Sans" >4</text>
<line x1="79.54" y1="408.5" x2="79.54" y2="410.1" stroke="#666" stroke-width="0.4"/>
<line x1="81.22" y1="408.5" x2="81.22" y2="410.1" stroke="#666" stroke-width="0.4"/>
<line x1="82.89" y1="408.5" x2="82.89" y2="410.1" stroke="#666" stroke-width="0.4"/>
<line x1="84.57" y1="408.5" x2="84.57" y2="410.1" stroke="#666" stroke-width="0.4"/>
<line x1="86.25" y1="408.5" x2="86.25" y2="410.7" stroke="#555" stroke-width="0.5"/>
<line x1="87.93" y1="408.5" x2="87.93" y2="410.1" stroke="#666" stroke-width="0.4"/>
<line x1="89.61" y1="408.5" x2="89.61" y2="410.1" stroke="#666" stroke-width="0.4"/>
<line x1="91.28" y1="408.5" x2="91.28" y2="410.1" stroke="#666" stroke-width="0.4"/>
<line x1="92.96" y1="408.5" x2="92.96" y2="410.1" stroke="#666" stroke-width="0.4"/>
<line x1="94.64" y1="408.5" x2="94.64" y2="411.1" stroke="#555" stroke-width="0.5"/>
<text x="94.64" y="413.4" font-size="3.4" fill="#3a3ad2" text-anchor="middle" font-family="Liberation Sans" >6</text>
<line x1="96.32" y1="408.5" x2="96.32" y2="410.1" stroke="#666" stroke-width="0.4"/>
<line x1="98" y1="408.5" x2="98" y2="410.1" stroke="#666" stroke-width="0.4"/>
<line x1="99.67" y1="408.5" x2="99.67" y2="410.1" stroke="#666" stroke-width="0.4"/>
<line x1="101.35" y1="408.5" x2="101.35" y2="410.1" stroke="#666" stroke-width="0.4"/>
<line x1="103.03" y1="408.5" x2="103.03" y2="410.7" stroke="#555" stroke-width="0.5"/>
<line x1="104.71" y1="408.5" x2="104.71" y2="410.1" stroke="#666" stroke-width="0.4"/>
<line x1="106.39" y1="408.5" x2="106.39" y2="410.1" stroke="#666" stroke-width="0.4"/>
<line x1="108.06" y1="408.5" x2="108.06" y2="410.1" stroke="#666" stroke-width="0.4"/>
<line x1="109.74" y1="408.5" x2="109.74" y2="410.1" stroke="#666" stroke-width="0.4"/>
<line x1="111.42" y1="408.5" x2="111.42" y2="411.1" stroke="#555" stroke-width="0.5"/>
<text x="111.42" y="413.4" font-size="3.4" fill="#3a3ad2" text-anchor="middle" font-family="Liberation Sans" >8</text>
<line x1="113.1" y1="408.5" x2="113.1" y2="410.1" stroke="#666" stroke-width="0.4"/>
<line x1="114.78" y1="408.5" x2="114.78" y2="410.1" stroke="#666" stroke-width="0.4"/>
<line x1="116.45" y1="408.5" x2="116.45" y2="410.1" stroke="#666" stroke-width="0.4"/>
<line x1="118.13" y1="408.5" x2="118.13" y2="410.1" stroke="#666" stroke-width="0.4"/>
<line x1="119.81" y1="408.5" x2="119.81" y2="410.7" stroke="#555" stroke-width="0.5"/>
<line x1="121.49" y1="408.5" x2="121.49" y2="410.1" stroke="#666" stroke-width="0.4"/>
<line x1="123.17" y1="408.5" x2="123.17" y2="410.1" stroke="#666" stroke-width="0.4"/>
<line x1="124.84" y1="408.5" x2="124.84" y2="410.1" stroke="#666" stroke-width="0.4"/>
<line x1="126.52" y1="408.5" x2="126.52" y2="410.1" stroke="#666" stroke-width="0.4"/>
<line x1="128.2" y1="408.5" x2="128.2" y2="411.1" stroke="#555" stroke-width="0.5"/>
<text x="128.2" y="413.4" font-size="3.4" fill="#3a3ad2" text-anchor="middle" font-family="Liberation Sans" >10</text>
<line x1="129.88" y1="408.5" x2="129.88" y2="410.1" stroke="#666" stroke-width="0.4"/>
<line x1="131.56" y1="408.5" x2="131.56" y2="410.1" stroke="#666" stroke-width="0.4"/>
<line x1="133.23" y1="408.5" x2="133.23" y2="410.1" stroke="#666" stroke-width="0.4"/>
<line x1="134.91" y1="408.5" x2="134.91" y2="410.1" stroke="#666" stroke-width="0.4"/>
<line x1="136.59" y1="408.5" x2="136.59" y2="410.7" stroke="#555" stroke-width="0.5"/>
<line x1="138.27" y1="408.5" x2="138.27" y2="410.1" stroke="#666" stroke-width="0.4"/>
<line x1="139.95" y1="408.5" x2="139.95" y2="410.1" stroke="#666" stroke-width="0.4"/>
<line x1="141.62" y1="408.5" x2="141.62" y2="410.1" stroke="#666" stroke-width="0.4"/>
<line x1="143.3" y1="408.5" x2="143.3" y2="410.1" stroke="#666" stroke-width="0.4"/>
<line x1="144.98" y1="408.5" x2="144.98" y2="411.1" stroke="#555" stroke-width="0.5"/>
<text x="144.98" y="413.4" font-size="3.4" fill="#3a3ad2" text-anchor="middle" font-family="Liberation Sans" >12</text>
<line x1="146.66" y1="408.5" x2="146.66" y2="410.1" stroke="#666" stroke-width="0.4"/>
<line x1="148.34" y1="408.5" x2="148.34" y2="410.1" stroke="#666" stroke-width="0.4"/>
<line x1="150.01" y1="408.5" x2="150.01" y2="410.1" stroke="#666" stroke-width="0.4"/>
<line x1="151.69" y1="408.5" x2="151.69" y2="410.1" stroke="#666" stroke-width="0.4"/>
<line x1="153.37" y1="408.5" x2="153.37" y2="410.7" stroke="#555" stroke-width="0.5"/>
<line x1="155.05" y1="408.5" x2="155.05" y2="410.1" stroke="#666" stroke-width="0.4"/>
<line x1="156.73" y1="408.5" x2="156.73" y2="410.1" stroke="#666" stroke-width="0.4"/>
<line x1="158.4" y1="408.5" x2="158.4" y2="410.1" stroke="#666" stroke-width="0.4"/>
<line x1="160.08" y1="408.5" x2="160.08" y2="410.1" stroke="#666" stroke-width="0.4"/>
<line x1="161.76" y1="408.5" x2="161.76" y2="411.1" stroke="#555" stroke-width="0.5"/>
<text x="161.76" y="413.4" font-size="3.4" fill="#3a3ad2" text-anchor="middle" font-family="Liberation Sans" >14</text>
<line x1="163.44" y1="408.5" x2="163.44" y2="410.1" stroke="#666" stroke-width="0.4"/>
<line x1="165.12" y1="408.5" x2="165.12" y2="410.1" stroke="#666" stroke-width="0.4"/>
<line x1="166.79" y1="408.5" x2="166.79" y2="410.1" stroke="#666" stroke-width="0.4"/>
<line x1="168.47" y1="408.5" x2="168.47" y2="410.1" stroke="#666" stroke-width="0.4"/>
<line x1="170.15" y1="408.5" x2="170.15" y2="410.7" stroke="#555" stroke-width="0.5"/>
<line x1="171.83" y1="408.5" x2="171.83" y2="410.1" stroke="#666" stroke-width="0.4"/>
<line x1="173.51" y1="408.5" x2="173.51" y2="410.1" stroke="#666" stroke-width="0.4"/>
<line x1="175.18" y1="408.5" x2="175.18" y2="410.1" stroke="#666" stroke-width="0.4"/>
<line x1="176.86" y1="408.5" x2="176.86" y2="410.1" stroke="#666" stroke-width="0.4"/>
<line x1="178.54" y1="408.5" x2="178.54" y2="411.1" stroke="#555" stroke-width="0.5"/>
<text x="178.54" y="413.4" font-size="3.4" fill="#3a3ad2" text-anchor="middle" font-family="Liberation Sans" >16</text>
<line x1="180.22" y1="408.5" x2="180.22" y2="410.1" stroke="#666" stroke-width="0.4"/>
<line x1="181.9" y1="408.5" x2="181.9" y2="410.1" stroke="#666" stroke-width="0.4"/>
<line x1="183.57" y1="408.5" x2="183.57" y2="410.1" stroke="#666" stroke-width="0.4"/>
<line x1="185.25" y1="408.5" x2="185.25" y2="410.1" stroke="#666" stroke-width="0.4"/>
<line x1="186.93" y1="408.5" x2="186.93" y2="410.7" stroke="#555" stroke-width="0.5"/>
<line x1="188.61" y1="408.5" x2="188.61" y2="410.1" stroke="#666" stroke-width="0.4"/>
<line x1="190.29" y1="408.5" x2="190.29" y2="410.1" stroke="#666" stroke-width="0.4"/>
<line x1="191.96" y1="408.5" x2="191.96" y2="410.1" stroke="#666" stroke-width="0.4"/>
<line x1="193.64" y1="408.5" x2="193.64" y2="410.1" stroke="#666" stroke-width="0.4"/>
<line x1="195.32" y1="408.5" x2="195.32" y2="411.1" stroke="#555" stroke-width="0.5"/>
<text x="195.32" y="413.4" font-size="3.4" fill="#3a3ad2" text-anchor="middle" font-family="Liberation Sans" >18</text>
<line x1="197" y1="408.5" x2="197" y2="410.1" stroke="#666" stroke-width="0.4"/>
<line x1="198.68" y1="408.5" x2="198.68" y2="410.1" stroke="#666" stroke-width="0.4"/>
<line x1="200.35" y1="408.5" x2="200.35" y2="410.1" stroke="#666" stroke-width="0.4"/>
<line x1="202.03" y1="408.5" x2="202.03" y2="410.1" stroke="#666" stroke-width="0.4"/>
<line x1="203.71" y1="408.5" x2="203.71" y2="410.7" stroke="#555" stroke-width="0.5"/>
<line x1="205.39" y1="408.5" x2="205.39" y2="410.1" stroke="#666" stroke-width="0.4"/>
<line x1="207.07" y1="408.5" x2="207.07" y2="410.1" stroke="#666" stroke-width="0.4"/>
<line x1="208.74" y1="408.5" x2="208.74" y2="410.1" stroke="#666" stroke-width="0.4"/>
<line x1="210.42" y1="408.5" x2="210.42" y2="410.1" stroke="#666" stroke-width="0.4"/>
<line x1="212.1" y1="408.5" x2="212.1" y2="411.1" stroke="#555" stroke-width="0.5"/>
<text x="212.1" y="413.4" font-size="3.4" fill="#3a3ad2" text-anchor="middle" font-family="Liberation Sans" >20</text>
<line x1="213.78" y1="408.5" x2="213.78" y2="410.1" stroke="#666" stroke-width="0.4"/>
<line x1="215.46" y1="408.5" x2="215.46" y2="410.1" stroke="#666" stroke-width="0.4"/>
<line x1="217.13" y1="408.5" x2="217.13" y2="410.1" stroke="#666" stroke-width="0.4"/>
<line x1="218.81" y1="408.5" x2="218.81" y2="410.1" stroke="#666" stroke-width="0.4"/>
<line x1="220.49" y1="408.5" x2="220.49" y2="410.7" stroke="#555" stroke-width="0.5"/>
<line x1="222.17" y1="408.5" x2="222.17" y2="410.1" stroke="#666" stroke-width="0.4"/>
<line x1="223.85" y1="408.5" x2="223.85" y2="410.1" stroke="#666" stroke-width="0.4"/>
<line x1="225.52" y1="408.5" x2="225.52" y2="410.1" stroke="#666" stroke-width="0.4"/>
<line x1="227.2" y1="408.5" x2="227.2" y2="410.1" stroke="#666" stroke-width="0.4"/>
<line x1="228.88" y1="408.5" x2="228.88" y2="411.1" stroke="#555" stroke-width="0.5"/>
<text x="228.88" y="413.4" font-size="3.4" fill="#3a3ad2" text-anchor="middle" font-family="Liberation Sans" >22</text>
<line x1="230.56" y1="408.5" x2="230.56" y2="410.1" stroke="#666" stroke-width="0.4"/>
<line x1="232.24" y1="408.5" x2="232.24" y2="410.1" stroke="#666" stroke-width="0.4"/>
<line x1="233.91" y1="408.5" x2="233.91" y2="410.1" stroke="#666" stroke-width="0.4"/>
<line x1="235.59" y1="408.5" x2="235.59" y2="410.1" stroke="#666" stroke-width="0.4"/>
<line x1="237.27" y1="408.5" x2="237.27" y2="410.7" stroke="#555" stroke-width="0.5"/>
<line x1="238.95" y1="408.5" x2="238.95" y2="410.1" stroke="#666" stroke-width="0.4"/>
<line x1="240.63" y1="408.5" x2="240.63" y2="410.1" stroke="#666" stroke-width="0.4"/>
<line x1="242.3" y1="408.5" x2="242.3" y2="410.1" stroke="#666" stroke-width="0.4"/>
<line x1="243.98" y1="408.5" x2="243.98" y2="410.1" stroke="#666" stroke-width="0.4"/>
<line x1="245.66" y1="408.5" x2="245.66" y2="411.1" stroke="#555" stroke-width="0.5"/>
<text x="245.66" y="413.4" font-size="3.4" fill="#3a3ad2" text-anchor="middle" font-family="Liberation Sans" >24</text>
<line x1="247.34" y1="408.5" x2="247.34" y2="410.1" stroke="#666" stroke-width="0.4"/>
<line x1="249.02" y1="408.5" x2="249.02" y2="410.1" stroke="#666" stroke-width="0.4"/>
<line x1="250.69" y1="408.5" x2="250.69" y2="410.1" stroke="#666" stroke-width="0.4"/>
<line x1="252.37" y1="408.5" x2="252.37" y2="410.1" stroke="#666" stroke-width="0.4"/>
<line x1="254.05" y1="408.5" x2="254.05" y2="410.7" stroke="#555" stroke-width="0.5"/>
<line x1="255.73" y1="408.5" x2="255.73" y2="410.1" stroke="#666" stroke-width="0.4"/>
<line x1="257.41" y1="408.5" x2="257.41" y2="410.1" stroke="#666" stroke-width="0.4"/>
<line x1="259.08" y1="408.5" x2="259.08" y2="410.1" stroke="#666" stroke-width="0.4"/>
<line x1="260.76" y1="408.5" x2="260.76" y2="410.1" stroke="#666" stroke-width="0.4"/>
<line x1="262.44" y1="408.5" x2="262.44" y2="411.1" stroke="#555" stroke-width="0.5"/>
<text x="262.44" y="413.4" font-size="3.4" fill="#3a3ad2" text-anchor="middle" font-family="Liberation Sans" >26</text>
<line x1="264.12" y1="408.5" x2="264.12" y2="410.1" stroke="#666" stroke-width="0.4"/>
<line x1="265.8" y1="408.5" x2="265.8" y2="410.1" stroke="#666" stroke-width="0.4"/>
<line x1="267.47" y1="408.5" x2="267.47" y2="410.1" stroke="#666" stroke-width="0.4"/>
<line x1="269.15" y1="408.5" x2="269.15" y2="410.1" stroke="#666" stroke-width="0.4"/>
<line x1="270.83" y1="408.5" x2="270.83" y2="410.7" stroke="#555" stroke-width="0.5"/>
<line x1="272.51" y1="408.5" x2="272.51" y2="410.1" stroke="#666" stroke-width="0.4"/>
<line x1="274.19" y1="408.5" x2="274.19" y2="410.1" stroke="#666" stroke-width="0.4"/>
<line x1="275.86" y1="408.5" x2="275.86" y2="410.1" stroke="#666" stroke-width="0.4"/>
<line x1="277.54" y1="408.5" x2="277.54" y2="410.1" stroke="#666" stroke-width="0.4"/>
<line x1="279.22" y1="408.5" x2="279.22" y2="411.1" stroke="#555" stroke-width="0.5"/>
<text x="279.22" y="413.4" font-size="3.4" fill="#3a3ad2" text-anchor="middle" font-family="Liberation Sans" >28</text>
<line x1="280.9" y1="408.5" x2="280.9" y2="410.1" stroke="#666" stroke-width="0.4"/>
<line x1="282.58" y1="408.5" x2="282.58" y2="410.1" stroke="#666" stroke-width="0.4"/>
<line x1="284.25" y1="408.5" x2="284.25" y2="410.1" stroke="#666" stroke-width="0.4"/>
<line x1="285.93" y1="408.5" x2="285.93" y2="410.1" stroke="#666" stroke-width="0.4"/>
<line x1="287.61" y1="408.5" x2="287.61" y2="410.7" stroke="#555" stroke-width="0.5"/>
<line x1="289.29" y1="408.5" x2="289.29" y2="410.1" stroke="#666" stroke-width="0.4"/>
<line x1="290.97" y1="408.5" x2="290.97" y2="410.1" stroke="#666" stroke-width="0.4"/>
<line x1="292.64" y1="408.5" x2="292.64" y2="410.1" stroke="#666" stroke-width="0.4"/>
<line x1="294.32" y1="408.5" x2="294.32" y2="410.1" stroke="#666" stroke-width="0.4"/>
<line x1="296" y1="408.5" x2="296" y2="411.1" stroke="#555" stroke-width="0.5"/>
<text x="296" y="413.4" font-size="3.4" fill="#3a3ad2" text-anchor="middle" font-family="Liberation Sans" >30</text>
<line x1="297.68" y1="408.5" x2="297.68" y2="410.1" stroke="#666" stroke-width="0.4"/>
<line x1="299.36" y1="408.5" x2="299.36" y2="410.1" stroke="#666" stroke-width="0.4"/>
<line x1="301.03" y1="408.5" x2="301.03" y2="410.1" stroke="#666" stroke-width="0.4"/>
<line x1="302.71" y1="408.5" x2="302.71" y2="410.1" stroke="#666" stroke-width="0.4"/>
<line x1="304.39" y1="408.5" x2="304.39" y2="410.7" stroke="#555" stroke-width="0.5"/>
<line x1="306.07" y1="408.5" x2="306.07" y2="410.1" stroke="#666" stroke-width="0.4"/>
<line x1="307.75" y1="408.5" x2="307.75" y2="410.1" stroke="#666" stroke-width="0.4"/>
<line x1="309.42" y1="408.5" x2="309.42" y2="410.1" stroke="#666" stroke-width="0.4"/>
<line x1="311.1" y1="408.5" x2="311.1" y2="410.1" stroke="#666" stroke-width="0.4"/>
<line x1="312.78" y1="408.5" x2="312.78" y2="411.1" stroke="#555" stroke-width="0.5"/>
<text x="312.78" y="413.4" font-size="3.4" fill="#3a3ad2" text-anchor="middle" font-family="Liberation Sans" >32</text>
<line x1="314.46" y1="408.5" x2="314.46" y2="410.1" stroke="#666" stroke-width="0.4"/>
<line x1="316.14" y1="408.5" x2="316.14" y2="410.1" stroke="#666" stroke-width="0.4"/>
<line x1="317.81" y1="408.5" x2="317.81" y2="410.1" stroke="#666" stroke-width="0.4"/>
<line x1="319.49" y1="408.5" x2="319.49" y2="410.1" stroke="#666" stroke-width="0.4"/>
<text x="0" y="0" font-size="6.6" fill="#3a64a4" text-anchor="middle" stroke="#3a64a4" stroke-width="0.15" transform="translate(21.7,365.5) rotate(-90)">Response [mV]</text>
<rect x="55.9" y="342.3" width="24.5" height="19.5" fill="none" stroke="#e3e3e3" stroke-width="0.9"/>
<text x="66.5" y="355" font-size="10.2" fill="#1a1a1a" text-anchor="middle" stroke="#1a1a1a" stroke-width="0.15" >IV</text>
<text x="123.1" y="354.7" font-size="6.5" fill="#1a1a1a" text-anchor="start" >(-)-yatein</text>
<polyline points="44.4,404 66,404 68,404.6 69.2,404.8 70.5,404.1 72,403.6 100,403.7 161.3,403.5 161.8,385 162.2,345 162.6,318.6 163,328 163.4,355 163.9,385 164.8,397.8 166,401 169.2,402.2 172,401 174.1,397.4 175.5,401.5 177.5,403.2 200,403.5 282.5,403.5 284,402.6 285.5,403.4 321,403.6" fill="none" stroke="#44e6e6" stroke-width="0.9" stroke-linejoin="round" />
<text x="163.3" y="317.5" font-size="4" fill="#333" text-anchor="middle" >(e)</text>
<text x="158.8" y="422.6" font-size="6.5" fill="#3a64a4" text-anchor="start" stroke="#3a64a4" stroke-width="0.15" >Time [min]</text>
<line x1="45.5" y1="427.2" x2="45.5" y2="518.3" stroke="#555" stroke-width="0.8"/>
<line x1="43.2" y1="430.6" x2="45.5" y2="430.6" stroke="#555" stroke-width="0.6"/>
<text x="42.8" y="431.82" font-size="3.4" fill="#3a3ad2" text-anchor="end" font-family="Liberation Sans" >2200.000</text>
<line x1="43.2" y1="438.27" x2="45.5" y2="438.27" stroke="#555" stroke-width="0.6"/>
<text x="42.8" y="439.49" font-size="3.4" fill="#3a3ad2" text-anchor="end" font-family="Liberation Sans" >2000.000</text>
<line x1="43.2" y1="445.94" x2="45.5" y2="445.94" stroke="#555" stroke-width="0.6"/>
<text x="42.8" y="447.16" font-size="3.4" fill="#3a3ad2" text-anchor="end" font-family="Liberation Sans" >1800.000</text>
<line x1="43.2" y1="453.61" x2="45.5" y2="453.61" stroke="#555" stroke-width="0.6"/>
<text x="42.8" y="454.83" font-size="3.4" fill="#3a3ad2" text-anchor="end" font-family="Liberation Sans" >1600.000</text>
<line x1="43.2" y1="461.28" x2="45.5" y2="461.28" stroke="#555" stroke-width="0.6"/>
<text x="42.8" y="462.5" font-size="3.4" fill="#3a3ad2" text-anchor="end" font-family="Liberation Sans" >1400.000</text>
<line x1="43.2" y1="468.95" x2="45.5" y2="468.95" stroke="#555" stroke-width="0.6"/>
<text x="42.8" y="470.17" font-size="3.4" fill="#3a3ad2" text-anchor="end" font-family="Liberation Sans" >1200.000</text>
<line x1="43.2" y1="476.62" x2="45.5" y2="476.62" stroke="#555" stroke-width="0.6"/>
<text x="42.8" y="477.84" font-size="3.4" fill="#3a3ad2" text-anchor="end" font-family="Liberation Sans" >1000.000</text>
<line x1="43.2" y1="484.29" x2="45.5" y2="484.29" stroke="#555" stroke-width="0.6"/>
<text x="42.8" y="485.51" font-size="3.4" fill="#3a3ad2" text-anchor="end" font-family="Liberation Sans" >800.000</text>
<line x1="43.2" y1="491.96" x2="45.5" y2="491.96" stroke="#555" stroke-width="0.6"/>
<text x="42.8" y="493.18" font-size="3.4" fill="#3a3ad2" text-anchor="end" font-family="Liberation Sans" >600.000</text>
<line x1="43.2" y1="499.63" x2="45.5" y2="499.63" stroke="#555" stroke-width="0.6"/>
<text x="42.8" y="500.85" font-size="3.4" fill="#3a3ad2" text-anchor="end" font-family="Liberation Sans" >400.000</text>
<line x1="43.2" y1="507.3" x2="45.5" y2="507.3" stroke="#555" stroke-width="0.6"/>
<text x="42.8" y="508.52" font-size="3.4" fill="#3a3ad2" text-anchor="end" font-family="Liberation Sans" >200.000</text>
<line x1="43.2" y1="514.97" x2="45.5" y2="514.97" stroke="#555" stroke-width="0.6"/>
<text x="42.8" y="516.19" font-size="3.4" fill="#3a3ad2" text-anchor="end" font-family="Liberation Sans" >0.000</text>
<line x1="43.7" y1="434.44" x2="45.5" y2="434.44" stroke="#555" stroke-width="0.5"/>
<line x1="43.7" y1="442.11" x2="45.5" y2="442.11" stroke="#555" stroke-width="0.5"/>
<line x1="43.7" y1="449.78" x2="45.5" y2="449.78" stroke="#555" stroke-width="0.5"/>
<line x1="43.7" y1="457.45" x2="45.5" y2="457.45" stroke="#555" stroke-width="0.5"/>
<line x1="43.7" y1="465.12" x2="45.5" y2="465.12" stroke="#555" stroke-width="0.5"/>
<line x1="43.7" y1="472.79" x2="45.5" y2="472.79" stroke="#555" stroke-width="0.5"/>
<line x1="43.7" y1="480.46" x2="45.5" y2="480.46" stroke="#555" stroke-width="0.5"/>
<line x1="43.7" y1="488.13" x2="45.5" y2="488.13" stroke="#555" stroke-width="0.5"/>
<line x1="43.7" y1="495.8" x2="45.5" y2="495.8" stroke="#555" stroke-width="0.5"/>
<line x1="43.7" y1="503.47" x2="45.5" y2="503.47" stroke="#555" stroke-width="0.5"/>
<line x1="43.7" y1="511.14" x2="45.5" y2="511.14" stroke="#555" stroke-width="0.5"/>
<line x1="45.5" y1="518.3" x2="322" y2="518.3" stroke="#555" stroke-width="0.8"/>
<line x1="45.5" y1="518.3" x2="45.5" y2="520.9" stroke="#555" stroke-width="0.5"/>
<text x="45.5" y="522.9" font-size="3.4" fill="#3a3ad2" text-anchor="middle" font-family="Liberation Sans" >0</text>
<line x1="47.18" y1="518.3" x2="47.18" y2="519.9" stroke="#666" stroke-width="0.4"/>
<line x1="48.86" y1="518.3" x2="48.86" y2="519.9" stroke="#666" stroke-width="0.4"/>
<line x1="50.53" y1="518.3" x2="50.53" y2="519.9" stroke="#666" stroke-width="0.4"/>
<line x1="52.21" y1="518.3" x2="52.21" y2="519.9" stroke="#666" stroke-width="0.4"/>
<line x1="53.89" y1="518.3" x2="53.89" y2="520.5" stroke="#555" stroke-width="0.5"/>
<line x1="55.57" y1="518.3" x2="55.57" y2="519.9" stroke="#666" stroke-width="0.4"/>
<line x1="57.25" y1="518.3" x2="57.25" y2="519.9" stroke="#666" stroke-width="0.4"/>
<line x1="58.92" y1="518.3" x2="58.92" y2="519.9" stroke="#666" stroke-width="0.4"/>
<line x1="60.6" y1="518.3" x2="60.6" y2="519.9" stroke="#666" stroke-width="0.4"/>
<line x1="62.28" y1="518.3" x2="62.28" y2="520.9" stroke="#555" stroke-width="0.5"/>
<text x="62.28" y="522.9" font-size="3.4" fill="#3a3ad2" text-anchor="middle" font-family="Liberation Sans" >2</text>
<line x1="63.96" y1="518.3" x2="63.96" y2="519.9" stroke="#666" stroke-width="0.4"/>
<line x1="65.64" y1="518.3" x2="65.64" y2="519.9" stroke="#666" stroke-width="0.4"/>
<line x1="67.31" y1="518.3" x2="67.31" y2="519.9" stroke="#666" stroke-width="0.4"/>
<line x1="68.99" y1="518.3" x2="68.99" y2="519.9" stroke="#666" stroke-width="0.4"/>
<line x1="70.67" y1="518.3" x2="70.67" y2="520.5" stroke="#555" stroke-width="0.5"/>
<line x1="72.35" y1="518.3" x2="72.35" y2="519.9" stroke="#666" stroke-width="0.4"/>
<line x1="74.03" y1="518.3" x2="74.03" y2="519.9" stroke="#666" stroke-width="0.4"/>
<line x1="75.7" y1="518.3" x2="75.7" y2="519.9" stroke="#666" stroke-width="0.4"/>
<line x1="77.38" y1="518.3" x2="77.38" y2="519.9" stroke="#666" stroke-width="0.4"/>
<line x1="79.06" y1="518.3" x2="79.06" y2="520.9" stroke="#555" stroke-width="0.5"/>
<text x="79.06" y="522.9" font-size="3.4" fill="#3a3ad2" text-anchor="middle" font-family="Liberation Sans" >4</text>
<line x1="80.74" y1="518.3" x2="80.74" y2="519.9" stroke="#666" stroke-width="0.4"/>
<line x1="82.42" y1="518.3" x2="82.42" y2="519.9" stroke="#666" stroke-width="0.4"/>
<line x1="84.09" y1="518.3" x2="84.09" y2="519.9" stroke="#666" stroke-width="0.4"/>
<line x1="85.77" y1="518.3" x2="85.77" y2="519.9" stroke="#666" stroke-width="0.4"/>
<line x1="87.45" y1="518.3" x2="87.45" y2="520.5" stroke="#555" stroke-width="0.5"/>
<line x1="89.13" y1="518.3" x2="89.13" y2="519.9" stroke="#666" stroke-width="0.4"/>
<line x1="90.81" y1="518.3" x2="90.81" y2="519.9" stroke="#666" stroke-width="0.4"/>
<line x1="92.48" y1="518.3" x2="92.48" y2="519.9" stroke="#666" stroke-width="0.4"/>
<line x1="94.16" y1="518.3" x2="94.16" y2="519.9" stroke="#666" stroke-width="0.4"/>
<line x1="95.84" y1="518.3" x2="95.84" y2="520.9" stroke="#555" stroke-width="0.5"/>
<text x="95.84" y="522.9" font-size="3.4" fill="#3a3ad2" text-anchor="middle" font-family="Liberation Sans" >6</text>
<line x1="97.52" y1="518.3" x2="97.52" y2="519.9" stroke="#666" stroke-width="0.4"/>
<line x1="99.2" y1="518.3" x2="99.2" y2="519.9" stroke="#666" stroke-width="0.4"/>
<line x1="100.87" y1="518.3" x2="100.87" y2="519.9" stroke="#666" stroke-width="0.4"/>
<line x1="102.55" y1="518.3" x2="102.55" y2="519.9" stroke="#666" stroke-width="0.4"/>
<line x1="104.23" y1="518.3" x2="104.23" y2="520.5" stroke="#555" stroke-width="0.5"/>
<line x1="105.91" y1="518.3" x2="105.91" y2="519.9" stroke="#666" stroke-width="0.4"/>
<line x1="107.59" y1="518.3" x2="107.59" y2="519.9" stroke="#666" stroke-width="0.4"/>
<line x1="109.26" y1="518.3" x2="109.26" y2="519.9" stroke="#666" stroke-width="0.4"/>
<line x1="110.94" y1="518.3" x2="110.94" y2="519.9" stroke="#666" stroke-width="0.4"/>
<line x1="112.62" y1="518.3" x2="112.62" y2="520.9" stroke="#555" stroke-width="0.5"/>
<text x="112.62" y="522.9" font-size="3.4" fill="#3a3ad2" text-anchor="middle" font-family="Liberation Sans" >8</text>
<line x1="114.3" y1="518.3" x2="114.3" y2="519.9" stroke="#666" stroke-width="0.4"/>
<line x1="115.98" y1="518.3" x2="115.98" y2="519.9" stroke="#666" stroke-width="0.4"/>
<line x1="117.65" y1="518.3" x2="117.65" y2="519.9" stroke="#666" stroke-width="0.4"/>
<line x1="119.33" y1="518.3" x2="119.33" y2="519.9" stroke="#666" stroke-width="0.4"/>
<line x1="121.01" y1="518.3" x2="121.01" y2="520.5" stroke="#555" stroke-width="0.5"/>
<line x1="122.69" y1="518.3" x2="122.69" y2="519.9" stroke="#666" stroke-width="0.4"/>
<line x1="124.37" y1="518.3" x2="124.37" y2="519.9" stroke="#666" stroke-width="0.4"/>
<line x1="126.04" y1="518.3" x2="126.04" y2="519.9" stroke="#666" stroke-width="0.4"/>
<line x1="127.72" y1="518.3" x2="127.72" y2="519.9" stroke="#666" stroke-width="0.4"/>
<line x1="129.4" y1="518.3" x2="129.4" y2="520.9" stroke="#555" stroke-width="0.5"/>
<text x="129.4" y="522.9" font-size="3.4" fill="#3a3ad2" text-anchor="middle" font-family="Liberation Sans" >10</text>
<line x1="131.08" y1="518.3" x2="131.08" y2="519.9" stroke="#666" stroke-width="0.4"/>
<line x1="132.76" y1="518.3" x2="132.76" y2="519.9" stroke="#666" stroke-width="0.4"/>
<line x1="134.43" y1="518.3" x2="134.43" y2="519.9" stroke="#666" stroke-width="0.4"/>
<line x1="136.11" y1="518.3" x2="136.11" y2="519.9" stroke="#666" stroke-width="0.4"/>
<line x1="137.79" y1="518.3" x2="137.79" y2="520.5" stroke="#555" stroke-width="0.5"/>
<line x1="139.47" y1="518.3" x2="139.47" y2="519.9" stroke="#666" stroke-width="0.4"/>
<line x1="141.15" y1="518.3" x2="141.15" y2="519.9" stroke="#666" stroke-width="0.4"/>
<line x1="142.82" y1="518.3" x2="142.82" y2="519.9" stroke="#666" stroke-width="0.4"/>
<line x1="144.5" y1="518.3" x2="144.5" y2="519.9" stroke="#666" stroke-width="0.4"/>
<line x1="146.18" y1="518.3" x2="146.18" y2="520.9" stroke="#555" stroke-width="0.5"/>
<text x="146.18" y="522.9" font-size="3.4" fill="#3a3ad2" text-anchor="middle" font-family="Liberation Sans" >12</text>
<line x1="147.86" y1="518.3" x2="147.86" y2="519.9" stroke="#666" stroke-width="0.4"/>
<line x1="149.54" y1="518.3" x2="149.54" y2="519.9" stroke="#666" stroke-width="0.4"/>
<line x1="151.21" y1="518.3" x2="151.21" y2="519.9" stroke="#666" stroke-width="0.4"/>
<line x1="152.89" y1="518.3" x2="152.89" y2="519.9" stroke="#666" stroke-width="0.4"/>
<line x1="154.57" y1="518.3" x2="154.57" y2="520.5" stroke="#555" stroke-width="0.5"/>
<line x1="156.25" y1="518.3" x2="156.25" y2="519.9" stroke="#666" stroke-width="0.4"/>
<line x1="157.93" y1="518.3" x2="157.93" y2="519.9" stroke="#666" stroke-width="0.4"/>
<line x1="159.6" y1="518.3" x2="159.6" y2="519.9" stroke="#666" stroke-width="0.4"/>
<line x1="161.28" y1="518.3" x2="161.28" y2="519.9" stroke="#666" stroke-width="0.4"/>
<line x1="162.96" y1="518.3" x2="162.96" y2="520.9" stroke="#555" stroke-width="0.5"/>
<text x="162.96" y="522.9" font-size="3.4" fill="#3a3ad2" text-anchor="middle" font-family="Liberation Sans" >14</text>
<line x1="164.64" y1="518.3" x2="164.64" y2="519.9" stroke="#666" stroke-width="0.4"/>
<line x1="166.32" y1="518.3" x2="166.32" y2="519.9" stroke="#666" stroke-width="0.4"/>
<line x1="167.99" y1="518.3" x2="167.99" y2="519.9" stroke="#666" stroke-width="0.4"/>
<line x1="169.67" y1="518.3" x2="169.67" y2="519.9" stroke="#666" stroke-width="0.4"/>
<line x1="171.35" y1="518.3" x2="171.35" y2="520.5" stroke="#555" stroke-width="0.5"/>
<line x1="173.03" y1="518.3" x2="173.03" y2="519.9" stroke="#666" stroke-width="0.4"/>
<line x1="174.71" y1="518.3" x2="174.71" y2="519.9" stroke="#666" stroke-width="0.4"/>
<line x1="176.38" y1="518.3" x2="176.38" y2="519.9" stroke="#666" stroke-width="0.4"/>
<line x1="178.06" y1="518.3" x2="178.06" y2="519.9" stroke="#666" stroke-width="0.4"/>
<line x1="179.74" y1="518.3" x2="179.74" y2="520.9" stroke="#555" stroke-width="0.5"/>
<text x="179.74" y="522.9" font-size="3.4" fill="#3a3ad2" text-anchor="middle" font-family="Liberation Sans" >16</text>
<line x1="181.42" y1="518.3" x2="181.42" y2="519.9" stroke="#666" stroke-width="0.4"/>
<line x1="183.1" y1="518.3" x2="183.1" y2="519.9" stroke="#666" stroke-width="0.4"/>
<line x1="184.77" y1="518.3" x2="184.77" y2="519.9" stroke="#666" stroke-width="0.4"/>
<line x1="186.45" y1="518.3" x2="186.45" y2="519.9" stroke="#666" stroke-width="0.4"/>
<line x1="188.13" y1="518.3" x2="188.13" y2="520.5" stroke="#555" stroke-width="0.5"/>
<line x1="189.81" y1="518.3" x2="189.81" y2="519.9" stroke="#666" stroke-width="0.4"/>
<line x1="191.49" y1="518.3" x2="191.49" y2="519.9" stroke="#666" stroke-width="0.4"/>
<line x1="193.16" y1="518.3" x2="193.16" y2="519.9" stroke="#666" stroke-width="0.4"/>
<line x1="194.84" y1="518.3" x2="194.84" y2="519.9" stroke="#666" stroke-width="0.4"/>
<line x1="196.52" y1="518.3" x2="196.52" y2="520.9" stroke="#555" stroke-width="0.5"/>
<text x="196.52" y="522.9" font-size="3.4" fill="#3a3ad2" text-anchor="middle" font-family="Liberation Sans" >18</text>
<line x1="198.2" y1="518.3" x2="198.2" y2="519.9" stroke="#666" stroke-width="0.4"/>
<line x1="199.88" y1="518.3" x2="199.88" y2="519.9" stroke="#666" stroke-width="0.4"/>
<line x1="201.55" y1="518.3" x2="201.55" y2="519.9" stroke="#666" stroke-width="0.4"/>
<line x1="203.23" y1="518.3" x2="203.23" y2="519.9" stroke="#666" stroke-width="0.4"/>
<line x1="204.91" y1="518.3" x2="204.91" y2="520.5" stroke="#555" stroke-width="0.5"/>
<line x1="206.59" y1="518.3" x2="206.59" y2="519.9" stroke="#666" stroke-width="0.4"/>
<line x1="208.27" y1="518.3" x2="208.27" y2="519.9" stroke="#666" stroke-width="0.4"/>
<line x1="209.94" y1="518.3" x2="209.94" y2="519.9" stroke="#666" stroke-width="0.4"/>
<line x1="211.62" y1="518.3" x2="211.62" y2="519.9" stroke="#666" stroke-width="0.4"/>
<line x1="213.3" y1="518.3" x2="213.3" y2="520.9" stroke="#555" stroke-width="0.5"/>
<text x="213.3" y="522.9" font-size="3.4" fill="#3a3ad2" text-anchor="middle" font-family="Liberation Sans" >20</text>
<line x1="214.98" y1="518.3" x2="214.98" y2="519.9" stroke="#666" stroke-width="0.4"/>
<line x1="216.66" y1="518.3" x2="216.66" y2="519.9" stroke="#666" stroke-width="0.4"/>
<line x1="218.33" y1="518.3" x2="218.33" y2="519.9" stroke="#666" stroke-width="0.4"/>
<line x1="220.01" y1="518.3" x2="220.01" y2="519.9" stroke="#666" stroke-width="0.4"/>
<line x1="221.69" y1="518.3" x2="221.69" y2="520.5" stroke="#555" stroke-width="0.5"/>
<line x1="223.37" y1="518.3" x2="223.37" y2="519.9" stroke="#666" stroke-width="0.4"/>
<line x1="225.05" y1="518.3" x2="225.05" y2="519.9" stroke="#666" stroke-width="0.4"/>
<line x1="226.72" y1="518.3" x2="226.72" y2="519.9" stroke="#666" stroke-width="0.4"/>
<line x1="228.4" y1="518.3" x2="228.4" y2="519.9" stroke="#666" stroke-width="0.4"/>
<line x1="230.08" y1="518.3" x2="230.08" y2="520.9" stroke="#555" stroke-width="0.5"/>
<text x="230.08" y="522.9" font-size="3.4" fill="#3a3ad2" text-anchor="middle" font-family="Liberation Sans" >22</text>
<line x1="231.76" y1="518.3" x2="231.76" y2="519.9" stroke="#666" stroke-width="0.4"/>
<line x1="233.44" y1="518.3" x2="233.44" y2="519.9" stroke="#666" stroke-width="0.4"/>
<line x1="235.11" y1="518.3" x2="235.11" y2="519.9" stroke="#666" stroke-width="0.4"/>
<line x1="236.79" y1="518.3" x2="236.79" y2="519.9" stroke="#666" stroke-width="0.4"/>
<line x1="238.47" y1="518.3" x2="238.47" y2="520.5" stroke="#555" stroke-width="0.5"/>
<line x1="240.15" y1="518.3" x2="240.15" y2="519.9" stroke="#666" stroke-width="0.4"/>
<line x1="241.83" y1="518.3" x2="241.83" y2="519.9" stroke="#666" stroke-width="0.4"/>
<line x1="243.5" y1="518.3" x2="243.5" y2="519.9" stroke="#666" stroke-width="0.4"/>
<line x1="245.18" y1="518.3" x2="245.18" y2="519.9" stroke="#666" stroke-width="0.4"/>
<line x1="246.86" y1="518.3" x2="246.86" y2="520.9" stroke="#555" stroke-width="0.5"/>
<text x="246.86" y="522.9" font-size="3.4" fill="#3a3ad2" text-anchor="middle" font-family="Liberation Sans" >24</text>
<line x1="248.54" y1="518.3" x2="248.54" y2="519.9" stroke="#666" stroke-width="0.4"/>
<line x1="250.22" y1="518.3" x2="250.22" y2="519.9" stroke="#666" stroke-width="0.4"/>
<line x1="251.89" y1="518.3" x2="251.89" y2="519.9" stroke="#666" stroke-width="0.4"/>
<line x1="253.57" y1="518.3" x2="253.57" y2="519.9" stroke="#666" stroke-width="0.4"/>
<line x1="255.25" y1="518.3" x2="255.25" y2="520.5" stroke="#555" stroke-width="0.5"/>
<line x1="256.93" y1="518.3" x2="256.93" y2="519.9" stroke="#666" stroke-width="0.4"/>
<line x1="258.61" y1="518.3" x2="258.61" y2="519.9" stroke="#666" stroke-width="0.4"/>
<line x1="260.28" y1="518.3" x2="260.28" y2="519.9" stroke="#666" stroke-width="0.4"/>
<line x1="261.96" y1="518.3" x2="261.96" y2="519.9" stroke="#666" stroke-width="0.4"/>
<line x1="263.64" y1="518.3" x2="263.64" y2="520.9" stroke="#555" stroke-width="0.5"/>
<text x="263.64" y="522.9" font-size="3.4" fill="#3a3ad2" text-anchor="middle" font-family="Liberation Sans" >26</text>
<line x1="265.32" y1="518.3" x2="265.32" y2="519.9" stroke="#666" stroke-width="0.4"/>
<line x1="267" y1="518.3" x2="267" y2="519.9" stroke="#666" stroke-width="0.4"/>
<line x1="268.67" y1="518.3" x2="268.67" y2="519.9" stroke="#666" stroke-width="0.4"/>
<line x1="270.35" y1="518.3" x2="270.35" y2="519.9" stroke="#666" stroke-width="0.4"/>
<line x1="272.03" y1="518.3" x2="272.03" y2="520.5" stroke="#555" stroke-width="0.5"/>
<line x1="273.71" y1="518.3" x2="273.71" y2="519.9" stroke="#666" stroke-width="0.4"/>
<line x1="275.39" y1="518.3" x2="275.39" y2="519.9" stroke="#666" stroke-width="0.4"/>
<line x1="277.06" y1="518.3" x2="277.06" y2="519.9" stroke="#666" stroke-width="0.4"/>
<line x1="278.74" y1="518.3" x2="278.74" y2="519.9" stroke="#666" stroke-width="0.4"/>
<line x1="280.42" y1="518.3" x2="280.42" y2="520.9" stroke="#555" stroke-width="0.5"/>
<text x="280.42" y="522.9" font-size="3.4" fill="#3a3ad2" text-anchor="middle" font-family="Liberation Sans" >28</text>
<line x1="282.1" y1="518.3" x2="282.1" y2="519.9" stroke="#666" stroke-width="0.4"/>
<line x1="283.78" y1="518.3" x2="283.78" y2="519.9" stroke="#666" stroke-width="0.4"/>
<line x1="285.45" y1="518.3" x2="285.45" y2="519.9" stroke="#666" stroke-width="0.4"/>
<line x1="287.13" y1="518.3" x2="287.13" y2="519.9" stroke="#666" stroke-width="0.4"/>
<line x1="288.81" y1="518.3" x2="288.81" y2="520.5" stroke="#555" stroke-width="0.5"/>
<line x1="290.49" y1="518.3" x2="290.49" y2="519.9" stroke="#666" stroke-width="0.4"/>
<line x1="292.17" y1="518.3" x2="292.17" y2="519.9" stroke="#666" stroke-width="0.4"/>
<line x1="293.84" y1="518.3" x2="293.84" y2="519.9" stroke="#666" stroke-width="0.4"/>
<line x1="295.52" y1="518.3" x2="295.52" y2="519.9" stroke="#666" stroke-width="0.4"/>
<line x1="297.2" y1="518.3" x2="297.2" y2="520.9" stroke="#555" stroke-width="0.5"/>
<text x="297.2" y="522.9" font-size="3.4" fill="#3a3ad2" text-anchor="middle" font-family="Liberation Sans" >30</text>
<line x1="298.88" y1="518.3" x2="298.88" y2="519.9" stroke="#666" stroke-width="0.4"/>
<line x1="300.56" y1="518.3" x2="300.56" y2="519.9" stroke="#666" stroke-width="0.4"/>
<line x1="302.23" y1="518.3" x2="302.23" y2="519.9" stroke="#666" stroke-width="0.4"/>
<line x1="303.91" y1="518.3" x2="303.91" y2="519.9" stroke="#666" stroke-width="0.4"/>
<line x1="305.59" y1="518.3" x2="305.59" y2="520.5" stroke="#555" stroke-width="0.5"/>
<line x1="307.27" y1="518.3" x2="307.27" y2="519.9" stroke="#666" stroke-width="0.4"/>
<line x1="308.95" y1="518.3" x2="308.95" y2="519.9" stroke="#666" stroke-width="0.4"/>
<line x1="310.62" y1="518.3" x2="310.62" y2="519.9" stroke="#666" stroke-width="0.4"/>
<line x1="312.3" y1="518.3" x2="312.3" y2="519.9" stroke="#666" stroke-width="0.4"/>
<line x1="313.98" y1="518.3" x2="313.98" y2="520.9" stroke="#555" stroke-width="0.5"/>
<text x="313.98" y="522.9" font-size="3.4" fill="#3a3ad2" text-anchor="middle" font-family="Liberation Sans" >32</text>
<line x1="315.66" y1="518.3" x2="315.66" y2="519.9" stroke="#666" stroke-width="0.4"/>
<line x1="317.34" y1="518.3" x2="317.34" y2="519.9" stroke="#666" stroke-width="0.4"/>
<line x1="319.01" y1="518.3" x2="319.01" y2="519.9" stroke="#666" stroke-width="0.4"/>
<line x1="320.69" y1="518.3" x2="320.69" y2="519.9" stroke="#666" stroke-width="0.4"/>
<text x="0" y="0" font-size="6.6" fill="#3a64a4" text-anchor="middle" stroke="#3a64a4" stroke-width="0.15" transform="translate(21.7,476.9) rotate(-90)">Response [mV]</text>
<rect x="55.6" y="451.6" width="24.8" height="18.6" fill="none" stroke="#e3e3e3" stroke-width="0.9"/>
<text x="64.9" y="463.5" font-size="9.8" fill="#1a1a1a" text-anchor="middle" stroke="#1a1a1a" stroke-width="0.15" >V</text>
<text x="154.1" y="465.6" font-size="6.65" fill="#1a1a1a" text-anchor="start" stroke="#1a1a1a" stroke-width="0.12" >4’-demethylpodophyllotoxin</text>
<polyline points="45.5,511.5 70,511.5 71.4,513.1 72.5,511 74.1,507.7 76,509.2 82,510 100,510.5 145.2,510.6 145.8,490 146.3,440 146.7,427 147.1,432 147.6,448 148.2,470 148.6,485 149.5,493.5 150.7,498.5 152,502.5 154.2,505.5 157,507.3 162.9,509 170,509.8 200,510.3 255,510.4 270,510 286,508.4 286.6,504 287,502.5 287.5,505 288.2,508.6 290,509 321,509.6" fill="none" stroke="#4ee870" stroke-width="0.9" stroke-linejoin="round" />
<text x="146.3" y="424.2" font-size="4" fill="#333" text-anchor="middle" >(f)</text>
<line x1="28" y1="523.5" x2="322" y2="523.5" stroke="#f0f0f0" stroke-width="0.8"/>
<text x="158.5" y="532.6" font-size="6.6" fill="#3a64a4" text-anchor="start" stroke="#3a64a4" stroke-width="0.15" >Time [min]</text>
</svg></body></html>
